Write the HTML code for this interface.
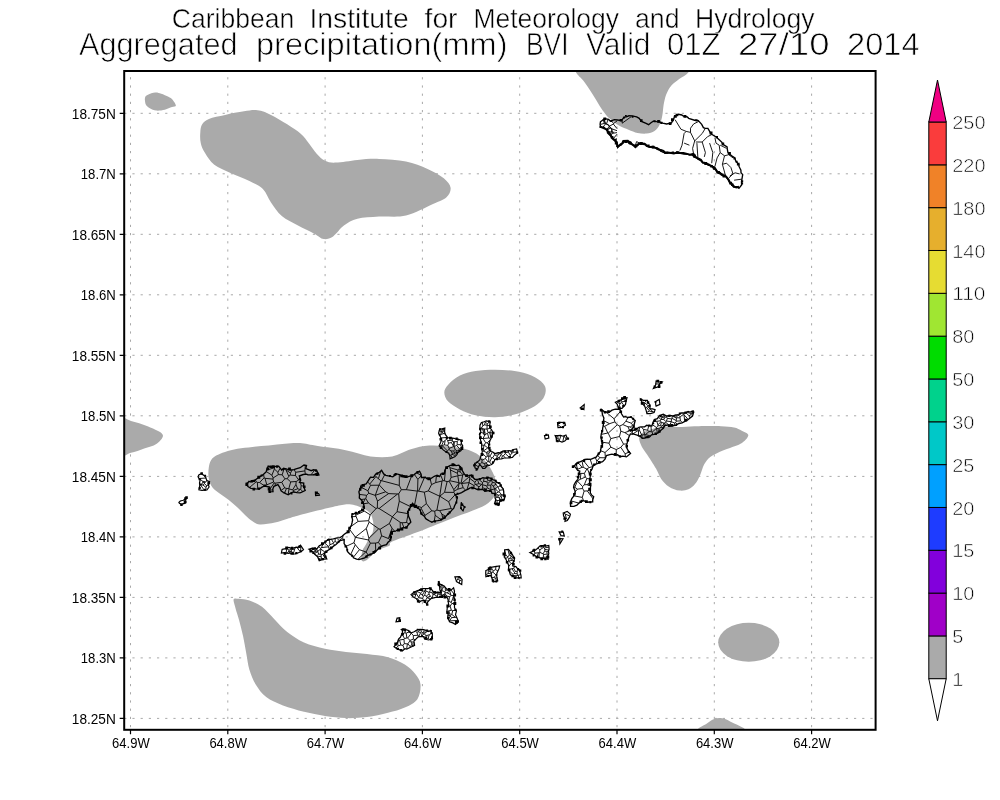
<!DOCTYPE html><html><head><meta charset="utf-8"><style>
html,body{margin:0;padding:0;background:#fff;width:1000px;height:800px;overflow:hidden}
svg{display:block;will-change:transform}
text{font-family:"Liberation Sans",sans-serif;fill:#000;stroke:#fff}
</style></head><body>
<svg width="1000" height="800" viewBox="0 0 1000 800">
<rect width="1000" height="800" fill="#fff"/>

<path d="M130.5 71.0V729.8M227.8 71.0V729.8M325.1 71.0V729.8M422.4 71.0V729.8M519.7 71.0V729.8M617.0 71.0V729.8M714.3 71.0V729.8M811.6 71.0V729.8" stroke="#a8a8a8" stroke-width="1" stroke-dasharray="2.2 6" stroke-dashoffset="2" fill="none"/>
<path d="M124.2 718.4H875.6M124.2 657.9H875.6M124.2 597.4H875.6M124.2 536.9H875.6M124.2 476.4H875.6M124.2 415.8H875.6M124.2 355.3H875.6M124.2 294.8H875.6M124.2 234.3H875.6M124.2 173.8H875.6M124.2 113.3H875.6" stroke="#a8a8a8" stroke-width="1" stroke-dasharray="2.2 6" fill="none"/>
<defs><clipPath id="pc"><rect x="124.2" y="71" width="751.4" height="658.8"/></clipPath></defs><g clip-path="url(#pc)" fill="#aaaaaa">
<path d="M145.3 96.8C145.8 95.7 146.3 95.4 148.0 94.7C149.6 94.0 153.0 92.7 155.2 92.6C157.4 92.4 159.0 93.1 161.2 93.8C163.4 94.5 166.5 95.8 168.4 96.8C170.3 97.8 171.3 98.3 172.6 99.8C173.8 101.3 176.0 104.6 175.9 105.8C175.8 107.0 173.8 106.3 172.0 107.0C170.1 107.6 167.4 109.1 164.8 109.7C162.2 110.3 158.9 110.8 156.4 110.6C153.9 110.3 151.5 109.1 149.8 108.2C148.1 107.3 147.0 106.4 146.2 105.2C145.4 104.0 145.1 102.4 145.0 101.0C144.8 99.6 144.8 97.8 145.3 96.8Z"/>
<path d="M200.3 132.4C200.5 129.3 200.7 126.6 202.2 124.3C203.6 122.1 205.1 120.5 208.9 118.9C212.7 117.3 219.3 116.1 225.1 114.9C231.0 113.6 238.6 112.1 244.0 111.3C249.4 110.6 253.0 109.7 257.5 110.3C262.0 110.8 266.1 112.5 271.0 114.9C276.0 117.2 282.3 121.2 287.2 124.3C292.2 127.5 297.1 130.6 300.7 133.8C304.3 136.9 306.1 139.8 308.8 143.2C311.5 146.6 314.2 151.1 316.9 154.0C319.6 156.9 321.9 159.3 325.0 160.8C328.2 162.2 330.4 162.8 335.8 162.6C341.2 162.5 350.2 160.6 357.4 159.9C364.6 159.3 370.9 158.6 379.0 158.9C387.1 159.1 397.9 159.9 406.0 161.6C414.1 163.2 421.3 166.1 427.6 168.9C433.9 171.6 440.0 175.2 443.8 178.3C447.6 181.5 450.1 184.6 450.6 187.8C451.0 190.9 449.4 194.5 446.5 197.2C443.6 199.9 439.8 200.9 433.0 204.0C426.3 207.0 415.0 213.4 406.0 215.6C397.0 217.7 387.1 216.1 379.0 216.6C370.9 217.2 363.3 217.3 357.4 218.8C351.6 220.3 348.0 222.6 343.9 225.6C339.9 228.5 336.5 234.1 333.1 236.4C329.7 238.6 326.8 239.5 323.7 239.1C320.5 238.6 318.5 235.9 314.2 233.7C309.9 231.4 303.4 228.5 298.0 225.6C292.6 222.6 286.3 219.9 281.8 216.1C277.3 212.3 274.2 207.1 271.0 202.6C267.9 198.1 266.5 192.7 262.9 189.1C259.3 185.5 254.8 183.7 249.4 181.0C244.0 178.3 236.4 175.6 230.5 172.9C224.7 170.2 218.6 168.2 214.3 164.8C210.0 161.4 207.1 156.3 204.9 152.7C202.6 149.1 201.6 146.6 200.8 143.2C200.0 139.8 200.0 135.6 200.3 132.4Z"/>
<path d="M566.0 50.0C545.2 53.5 572.4 65.9 575.2 71.0C578.0 76.1 580.6 77.2 583.0 80.3C585.4 83.4 587.3 86.2 589.5 89.4C591.7 92.7 593.8 96.3 596.0 99.8C598.2 103.3 600.3 107.2 602.5 110.2C604.7 113.2 606.2 115.4 609.0 118.0C611.8 120.6 616.2 123.9 619.4 125.8C622.7 127.8 625.5 128.5 628.5 129.7C631.5 130.9 634.6 132.3 637.6 133.0C640.6 133.6 643.9 133.9 646.7 133.6C649.5 133.3 652.3 132.5 654.5 131.0C656.7 129.5 658.4 127.1 659.7 124.5C661.0 121.9 661.7 118.7 662.3 115.4C663.0 112.2 663.0 108.5 663.6 105.0C664.3 101.5 664.9 97.9 666.2 94.6C667.5 91.4 669.2 88.1 671.4 85.5C673.6 82.9 676.2 81.4 679.2 79.0C682.2 76.6 686.1 75.8 689.6 71.0C693.1 66.2 720.6 53.5 700.0 50.0C679.4 46.5 586.8 46.5 566.0 50.0Z"/>
<path d="M120.0 419.8C121.8 414.3 127.3 420.2 131.0 420.9C134.7 421.6 138.3 422.9 142.0 424.2C145.7 425.5 149.5 426.8 153.0 428.6C156.5 430.4 162.4 432.6 162.9 435.2C163.5 437.8 159.4 441.8 156.3 444.0C153.2 446.2 148.4 446.9 144.2 448.4C140.0 449.9 135.0 451.9 131.0 452.8C127.0 453.7 121.8 459.4 120.0 453.9C118.2 448.4 118.2 425.3 120.0 419.8Z"/>
<path d="M444.3 392.5C444.3 389.7 445.6 387.5 448.2 384.7C450.8 381.9 455.4 377.9 459.9 375.6C464.5 373.3 469.7 372.0 475.5 371.1C481.4 370.1 488.5 369.8 495.0 369.8C501.5 369.8 508.4 370.1 514.5 371.1C520.6 372.0 526.6 373.5 531.4 375.6C536.2 377.7 540.7 380.8 543.1 383.4C545.5 386.0 545.9 388.4 545.7 391.2C545.5 394.0 544.2 397.5 541.8 400.3C539.4 403.1 536.0 405.7 531.4 408.1C526.9 410.5 520.6 413.1 514.5 414.6C508.4 416.1 501.5 417.1 495.0 417.2C488.5 417.3 481.4 416.6 475.5 415.3C469.7 414.0 464.5 411.7 459.9 409.4C455.4 407.1 450.8 404.4 448.2 401.6C445.6 398.8 444.3 395.3 444.3 392.5Z"/>
<path d="M208.8 478.8C208.1 475.4 208.3 470.6 208.8 467.5C209.2 464.4 210.0 462.0 211.2 460.0C212.5 458.0 214.0 457.0 216.2 455.6C218.5 454.3 221.5 453.0 225.0 451.9C228.5 450.7 232.9 449.6 237.5 448.8C242.1 447.9 247.3 447.4 252.5 446.9C257.7 446.4 263.3 446.1 268.8 445.6C274.2 445.1 279.8 444.2 285.0 443.8C290.2 443.3 294.5 442.7 300.0 443.1C305.5 443.5 310.2 444.9 317.8 446.1C325.4 447.3 336.9 448.4 345.7 450.2C354.5 451.9 362.8 455.3 370.5 456.4C378.3 457.4 385.5 457.5 392.2 456.4C398.9 455.2 404.6 451.0 410.8 449.2C417.0 447.4 422.2 445.9 429.4 445.5C436.6 445.1 447.0 446.0 454.2 447.1C461.4 448.1 467.6 449.4 472.8 451.7C478.0 454.0 481.6 456.9 485.2 461.0C488.8 465.1 492.7 471.3 494.5 476.5C496.3 481.7 497.1 487.6 496.1 492.0C495.0 496.4 492.2 499.8 488.3 502.9C484.4 506.0 479.5 507.8 472.8 510.6C466.1 513.4 457.3 516.3 448.0 519.9C438.7 523.5 426.3 528.7 417.0 532.3C407.7 535.9 396.8 539.4 392.2 541.6C387.7 543.8 391.2 544.4 389.7 545.5C388.2 546.6 385.2 547.2 383.2 548.0C381.2 548.8 379.4 549.2 377.5 550.4C375.6 551.6 373.7 553.6 371.8 555.3C369.9 557.0 367.7 559.6 366.1 560.6C364.5 561.6 362.9 561.6 362.1 561.0C361.3 560.4 361.2 558.8 361.3 556.9C361.4 555.0 362.2 551.5 362.9 549.6C363.6 547.7 364.5 547.0 365.3 545.5C366.1 544.0 367.0 542.3 367.8 540.7C368.6 539.1 369.4 537.2 370.2 535.8C371.0 534.4 372.1 534.0 372.6 532.5C373.2 531.0 373.4 528.7 373.5 526.8C373.6 524.9 373.4 523.1 373.0 521.1C372.6 519.1 372.0 516.4 371.0 514.6C370.0 512.9 368.5 511.7 367.0 510.6C365.5 509.5 364.1 509.0 362.1 508.1C360.1 507.2 357.7 505.9 354.8 505.3C351.9 504.7 349.1 504.1 345.0 504.5C340.9 504.9 337.7 505.8 330.2 507.5C322.7 509.3 307.1 513.1 300.0 515.0C292.9 516.9 291.7 517.5 287.5 518.8C283.3 520.0 279.6 521.6 275.0 522.5C270.4 523.4 263.8 524.6 260.0 524.4C256.2 524.2 255.0 522.8 252.5 521.2C250.0 519.7 247.5 517.3 245.0 515.0C242.5 512.7 240.2 510.0 237.5 507.5C234.8 505.0 231.7 502.3 228.8 500.0C225.8 497.7 222.7 495.8 220.0 493.8C217.3 491.7 214.4 490.0 212.5 487.5C210.6 485.0 209.4 482.1 208.8 478.8Z"/>
<path d="M639.1 438.6C639.1 436.4 639.8 434.9 641.7 433.4C643.7 431.9 647.6 430.6 650.8 429.5C654.1 428.4 656.0 427.3 661.2 426.9C666.4 426.5 675.7 427.0 682.0 426.9C688.3 426.8 692.4 426.4 698.9 426.3C705.4 426.1 715.2 426.0 721.0 426.3C726.9 426.5 730.5 426.8 734.0 427.6C737.5 428.3 739.4 429.5 741.8 430.8C744.2 432.1 748.5 433.2 748.3 435.4C748.1 437.5 744.6 441.3 740.5 443.8C736.4 446.3 728.6 448.1 723.6 450.3C718.6 452.5 713.9 454.4 710.6 456.8C707.4 459.2 705.8 461.6 704.1 464.6C702.4 467.6 701.7 471.8 700.2 475.0C698.7 478.3 697.0 481.7 695.0 484.1C693.1 486.5 691.1 488.2 688.5 489.3C685.9 490.4 682.7 491.0 679.4 490.6C676.2 490.2 672.0 488.7 669.0 486.7C666.0 484.8 663.4 481.9 661.2 478.9C659.0 475.9 658.4 472.6 656.0 468.5C653.6 464.4 649.3 457.9 646.9 454.2C644.5 450.5 643.0 449.0 641.7 446.4C640.4 443.8 639.1 440.8 639.1 438.6Z"/>
<path d="M233.6 599.4C234.2 597.8 236.3 598.6 238.9 598.8C241.5 599.0 245.5 599.2 249.4 600.5C253.2 601.8 257.8 603.6 262.0 606.8C266.2 609.9 270.4 615.2 274.6 619.4C278.8 623.6 282.3 628.1 287.2 632.0C292.1 635.8 297.7 639.7 304.0 642.5C310.3 645.3 318.0 647.2 325.0 648.8C332.0 650.4 339.0 651.1 346.0 651.9C353.0 652.8 360.0 653.2 367.0 654.0C374.0 654.9 381.7 655.4 388.0 657.2C394.3 658.9 400.2 661.7 404.8 664.5C409.3 667.3 412.7 670.7 415.3 674.0C417.9 677.3 420.2 680.3 420.5 684.5C420.9 688.7 420.0 695.3 417.4 699.2C414.8 703.0 409.7 705.3 404.8 707.6C399.9 709.9 394.3 711.3 388.0 712.8C381.7 714.4 374.0 716.2 367.0 717.0C360.0 717.9 353.0 718.3 346.0 718.1C339.0 717.9 332.0 717.0 325.0 716.0C318.0 714.9 311.0 713.5 304.0 711.8C297.0 710.0 289.3 707.9 283.0 705.5C276.7 703.0 270.7 700.6 266.2 697.1C261.6 693.6 258.5 689.0 255.7 684.5C252.9 679.9 251.0 675.0 249.4 669.8C247.8 664.5 247.3 658.6 246.2 653.0C245.2 647.4 244.3 641.8 243.1 636.2C241.9 630.6 240.1 623.9 238.9 619.4C237.7 614.8 236.6 612.2 235.7 608.9C234.9 605.6 233.1 601.1 233.6 599.4Z"/>
<ellipse cx="748.75" cy="642.35" rx="30.6" ry="19.5"/>
<path d="M699.4 731.0C693.1 729.7 704.7 725.3 707.2 723.3C709.7 721.3 711.7 719.7 714.2 718.9C716.7 718.1 719.3 717.8 722.0 718.3C724.7 718.8 726.8 719.6 730.6 721.7C734.4 723.8 749.9 729.5 744.7 731.0C739.5 732.5 705.6 732.3 699.4 731.0Z"/>
</g>
<g fill="none" stroke="#000" stroke-linejoin="miter">
<path d="M675.1 119.7 L680.9 129.2 L686.2 131.4 L690.5 132.4 L694.7 140.9 L692.6 148.4 L693.7 154.7M686.2 131.4 L684.1 133.5 L682.0 145.2 L679.9 150.5M690.5 132.4 L690.5 128.2 L693.7 123.9 L699.0 121.3M694.7 140.9 L702.2 133.5 L705.4 128.2M695.8 142.0 L702.2 142.0 L705.4 152.6 L704.3 156.9M702.2 142.0 L707.5 136.7 L711.7 134.6M696.9 143.1 L697.9 157.9M714.9 137.7 L716.0 143.1 L719.2 145.2 L720.2 152.6 L717.1 157.9 L714.9 166.4M720.2 152.6 L724.5 155.8 L728.7 154.7M724.5 155.8 L722.4 164.3 L725.6 176.0M722.4 164.3 L726.6 163.2 L730.9 167.5 L733.0 173.9M729.8 176.0 L735.1 172.8 L739.4 173.9M734.1 180.2 L741.5 179.2M728.7 154.7 L733.0 157.9M709.6 143.1 L712.8 152.6 L711.7 163.2M684.1 143.1 L689.4 145.2M720.2 145.2 L726.6 148.4M733.0 173.9 L728.7 178.1M603.8 118.8 L605.4 124.0 L608.6 124.8 L610.2 128.0M605.4 124.0 L603.0 127.2M607.0 129.6 L611.0 128.0 L612.6 132.0M610.2 133.6 L614.2 132.0M622.2 120.0 L622.2 123.2 L631.0 116.8M635.0 146.4 L636.6 141.6 L639.8 143.2M603.1 119.4 L604.3 123.4M603.8 118.8 L605.5 123.4M605.5 123.4 L604.3 123.4M600.6 124.4 L604.3 123.4M617.0 139.9 L614.7 139.5M617.0 138.7 L614.7 139.5M612.8 133.3 L617.0 132.6M612.8 133.3 L611.0 135.1M617.0 134.2 L613.1 138.9M608.3 131.7 L611.4 132.0M611.4 132.0 L612.8 133.3M614.7 139.5 L613.8 139.6M617.0 142.0 L616.0 142.1M606.7 130.1 L609.1 126.4M605.5 123.4 L606.7 123.4M609.1 126.4 L606.7 123.4M606.7 123.4 L608.1 119.2M617.0 121.0 L613.5 123.5M611.6 120.8 L613.5 123.5M617.0 130.7 L612.1 128.9M617.0 128.6 L613.3 124.0M612.1 128.9 L609.2 126.4M613.3 124.0 L609.2 126.4M611.4 132.0 L612.1 128.9M613.5 123.5 L613.3 124.0M609.1 126.4 L609.2 126.4M367.5 481.8 L369.7 484.1M375.2 475.8 L375.9 476.6M369.7 484.1 L375.9 476.6M445.7 516.4 L441.9 514.1M441.9 514.1 L442.8 518.6M359.4 494.4 L366.6 495.3M366.6 495.3 L368.8 493.2M361.3 487.3 L367.9 490.8M367.9 490.8 L368.8 493.2M369.7 484.1 L370.5 485.3M367.9 490.8 L370.5 485.3M381.6 480.7 L384.8 474.5M381.6 480.7 L381.0 480.9M378.4 478.7 L381.0 480.9M378.4 478.7 L380.6 471.5M399.3 485.4 L399.3 475.1M399.3 485.4 L381.6 480.7M375.9 476.6 L378.4 478.7M459.5 468.7 L460.3 472.2M460.3 472.2 L457.9 470.8M459.5 468.7 L457.6 469.9M457.6 469.9 L457.9 470.8M452.2 509.1 L451.1 508.5M441.9 514.1 L439.6 510.6M451.1 508.5 L439.6 510.6M434.7 511.2 L435.2 515.3M440.9 519.6 L435.2 515.3M434.7 511.2 L436.9 510.1M439.6 510.6 L436.9 510.1M339.1 540.5 L339.1 541.6M339.1 540.5 L337.2 538.5M337.3 542.7 L335.1 541.5M335.1 541.5 L335.2 538.8M370.2 514.8 L364.4 511.1M370.2 514.8 L368.6 520.7M358.1 521.4 L368.6 520.7M356.1 516.5 L358.1 521.4M356.1 516.5 L355.7 515.2M355.7 515.2 L364.4 511.1M366.6 495.3 L365.8 498.6M377.3 508.0 L376.1 508.6M377.3 508.0 L377.5 501.1M376.1 508.6 L368.5 503.0M368.5 503.0 L365.8 498.6M368.8 493.2 L375.3 495.4M377.5 501.1 L375.3 495.4M379.1 508.5 L397.6 494.0M379.1 508.5 L377.3 508.0M397.6 494.0 L388.7 493.6M377.5 501.1 L388.7 493.6M431.8 510.8 L424.9 515.4M431.8 510.8 L426.4 503.6M424.9 515.4 L421.3 508.6M426.4 503.6 L421.5 507.5M421.3 508.6 L421.5 507.5M417.3 491.1 L414.5 505.3M417.3 491.1 L406.4 489.7M406.4 489.7 L401.3 489.7M414.4 505.6 L414.5 505.3M410.7 506.7 L399.3 501.2M401.3 489.7 L398.7 493.8M399.3 501.2 L398.7 493.8M399.3 485.4 L401.3 489.7M411.7 475.8 L406.4 489.7M397.6 494.0 L398.7 493.8M379.1 508.5 L392.4 516.8M392.4 516.8 L397.0 511.7M397.0 511.7 L399.3 501.2M318.2 550.8 L317.9 551.5M318.2 550.8 L316.1 549.1M317.9 551.5 L315.4 550.6M316.1 549.1 L315.4 550.4M315.4 550.4 L315.4 550.6M316.0 548.0 L316.1 549.1M318.5 546.4 L320.7 548.3M320.7 548.3 L320.8 549.1M320.8 549.1 L318.2 550.8M312.5 549.0 L315.4 550.4M312.9 552.6 L315.3 550.7M315.3 550.7 L315.4 550.6M318.7 554.2 L317.8 551.8M318.7 554.2 L317.2 555.4M317.8 551.8 L316.0 552.5M316.0 552.5 L314.7 553.8M320.3 554.2 L318.7 554.2M320.3 554.2 L320.9 549.2M317.9 551.5 L317.8 551.8M320.8 549.1 L320.9 549.2M321.2 556.7 L321.1 554.7M321.2 556.7 L318.2 556.3M320.3 554.2 L321.1 554.7M315.3 550.7 L316.0 552.5M321.2 556.7 L321.6 559.5M320.7 548.3 L321.5 547.6M323.4 543.1 L321.5 547.6M335.1 541.5 L333.4 542.7M333.4 542.7 L331.5 539.4M369.2 522.0 L366.3 528.5M369.2 522.0 L378.7 528.8M366.3 528.5 L368.9 538.3M378.7 528.8 L368.9 538.3M333.4 542.7 L333.0 543.5M329.5 539.8 L329.9 544.7M333.0 543.5 L329.9 544.7M324.2 542.5 L328.5 546.5M329.9 544.7 L328.5 546.5M321.5 547.6 L328.5 546.8M328.5 546.5 L328.5 546.8M333.0 543.5 L334.9 545.1M325.1 558.3 L322.7 554.1M326.0 552.0 L324.9 552.0M322.7 554.1 L324.9 552.0M321.1 554.7 L322.7 554.1M328.5 546.8 L329.2 549.2M320.9 549.2 L324.9 552.0M364.9 499.0 L362.9 503.8M364.9 499.0 L360.8 499.6M368.5 503.0 L362.9 503.9M365.8 498.6 L364.9 499.0M352.0 516.7 L356.1 516.5M355.7 515.2 L354.8 513.3M364.4 511.1 L362.4 509.6M370.2 514.8 L376.1 508.6M385.6 491.8 L375.3 495.3M385.6 491.8 L379.2 484.9M375.3 495.3 L378.9 485.2M379.2 484.9 L378.9 485.2M375.3 495.4 L375.3 495.3M388.7 493.6 L385.6 491.8M381.0 480.9 L379.2 484.9M370.5 485.3 L378.9 485.2M406.5 522.5 L408.9 523.7M406.5 522.5 L408.2 513.7M408.2 513.7 L408.3 513.7M421.5 507.5 L414.5 505.3M421.3 508.6 L419.5 510.2M424.9 515.4 L424.2 516.3M397.0 511.7 L408.2 513.7M434.7 511.2 L431.8 510.8M435.2 515.3 L434.2 521.5M426.4 503.6 L424.3 492.2M424.3 492.2 L428.3 490.9M436.9 510.1 L439.6 496.2M428.3 490.9 L439.6 496.2M451.1 508.5 L448.7 501.8M448.7 501.8 L439.8 496.2M439.8 496.2 L439.7 496.2M439.6 496.2 L439.7 496.2M417.3 491.1 L417.6 491.0M424.3 492.2 L418.6 491.2M417.6 491.0 L418.6 491.2M414.5 474.6 L417.9 479.4M417.6 491.0 L417.9 479.4M416.7 472.9 L421.1 475.3M417.9 479.4 L421.3 475.5M504.4 494.6 L502.4 494.8M504.0 489.6 L499.5 490.3M502.4 494.8 L501.7 494.7M501.7 494.7 L501.6 494.7M501.6 494.7 L499.1 491.8M499.5 490.3 L499.1 491.8M500.9 485.4 L498.0 487.1M499.5 490.3 L498.0 487.1M497.2 481.8 L495.7 483.1M498.0 487.1 L497.7 487.0M497.7 487.0 L496.0 484.2M495.7 483.1 L496.0 484.2M448.7 501.8 L455.2 494.6M439.8 496.2 L444.6 492.3M455.2 494.6 L453.9 492.4M453.9 492.4 L444.6 492.3M439.7 496.2 L442.0 481.0M442.0 481.0 L442.9 480.6M442.9 480.6 L444.4 480.8M444.4 480.8 L447.1 481.6M444.6 492.3 L447.1 481.6M375.7 550.9 L375.5 543.1M375.5 543.1 L378.4 542.5M378.4 542.5 L381.9 546.7M402.0 522.8 L406.5 522.5M402.0 522.8 L404.3 528.4M402.0 522.8 L400.2 522.3M400.3 529.4 L400.2 522.3M392.4 516.8 L392.4 516.9M392.4 516.9 L400.2 522.3M339.1 540.5 L342.7 537.8M343.4 540.2 L342.7 537.8M366.3 528.5 L355.4 537.1M368.6 520.7 L369.2 522.0M358.1 521.4 L349.9 527.2M355.4 537.1 L349.2 528.9M342.7 537.8 L343.0 535.7M365.8 551.9 L359.4 549.7M365.8 551.9 L366.1 552.0M366.1 552.0 L370.4 543.2M359.4 549.7 L355.3 544.7M368.5 540.0 L370.4 543.2M368.5 540.0 L355.4 537.3M355.3 544.7 L354.0 542.7M355.4 537.3 L354.0 542.7M353.6 557.0 L359.4 549.7M358.2 559.0 L365.8 551.9M368.6 555.6 L366.1 552.0M375.5 543.1 L370.4 543.2M350.7 554.5 L355.3 544.7M355.4 537.1 L355.4 537.3M368.9 538.3 L368.5 540.0M345.6 546.6 L354.0 542.7M435.7 482.6 L431.5 484.6M435.7 482.6 L436.4 476.0M431.5 484.6 L430.2 478.9M428.3 490.9 L431.5 484.6M442.0 481.0 L435.7 482.6M442.9 480.6 L440.7 475.2M418.6 491.2 L424.4 477.6M444.4 480.8 L445.5 470.0M499.1 491.8 L498.4 491.9M497.7 487.0 L495.1 488.7M498.4 491.9 L495.1 488.7M496.0 484.2 L493.2 486.0M493.2 486.0 L494.6 488.8M495.1 488.7 L494.6 488.8M459.5 468.7 L460.5 467.8M449.9 467.7 L449.1 466.3M457.6 469.9 L449.9 467.7M495.7 483.1 L492.3 482.3M493.2 486.0 L491.6 484.5M491.6 484.5 L492.3 482.3M492.0 478.7 L491.5 480.3M491.5 480.3 L492.3 482.3M460.3 472.2 L463.2 474.7M464.1 474.2 L463.2 474.7M449.9 467.7 L450.5 470.0M457.9 470.8 L457.4 473.3M450.5 470.0 L457.4 473.3M490.8 485.1 L491.6 484.5M494.6 488.9 L494.6 488.8M494.6 488.9 L490.8 489.9M490.8 485.1 L490.8 489.8M490.8 489.8 L490.8 489.9M486.8 485.9 L487.3 487.8M487.6 485.2 L486.8 485.9M487.6 485.2 L490.8 485.1M490.8 489.8 L487.3 487.8M450.5 470.0 L451.1 477.4M451.1 477.4 L449.7 480.7M447.1 481.6 L449.1 481.2M449.7 480.7 L449.1 481.2M381.6 535.8 L388.4 538.5M381.6 535.8 L380.1 529.3M388.4 538.5 L392.1 528.3M380.1 529.3 L389.4 523.5M389.4 523.5 L392.1 528.3M378.4 542.5 L381.6 535.8M390.0 539.9 L388.4 538.5M378.7 528.8 L380.1 529.3M394.6 531.1 L392.1 528.3M392.4 516.9 L389.4 523.5M490.8 489.9 L490.5 491.0M494.6 488.9 L495.4 493.4M494.8 493.9 L495.4 493.4M498.4 491.9 L495.8 493.5M495.4 493.4 L495.8 493.5M482.6 482.6 L483.6 481.3M482.6 482.6 L478.3 479.0M484.1 478.0 L483.6 481.3M469.5 474.9 L469.4 476.6M477.4 479.0 L477.4 479.0M474.9 482.3 L477.4 479.0M474.9 482.3 L469.7 478.3M469.7 478.3 L469.4 476.6M469.1 482.7 L474.1 485.6M469.1 482.7 L469.1 482.6M474.1 485.6 L475.0 484.5M475.0 484.5 L474.9 482.3M469.7 478.3 L469.1 482.6M487.3 487.8 L486.3 489.2M486.3 489.2 L482.5 487.6M486.8 485.9 L482.7 484.8M482.5 487.6 L482.7 484.8M469.1 482.7 L467.1 489.1M474.1 485.6 L473.8 488.3M478.8 483.7 L475.5 484.5M478.8 483.7 L481.8 484.4M475.5 484.5 L479.0 486.9M481.8 484.4 L479.0 486.9M475.0 484.5 L475.5 484.5M477.4 479.0 L478.8 483.7M482.6 482.6 L482.3 484.4M482.3 484.4 L481.8 484.4M477.9 489.1 L479.0 486.9M469.4 476.6 L461.5 483.5M469.1 482.6 L461.6 483.5M461.6 483.5 L461.5 483.5M464.9 489.7 L463.2 487.6M461.6 483.5 L463.2 487.6M497.7 497.4 L496.7 497.5M497.7 497.4 L498.6 495.1M496.7 497.5 L497.0 494.6M498.6 495.1 L497.0 494.6M501.7 494.7 L499.4 497.9M501.6 494.7 L498.6 495.1M499.4 497.9 L497.7 497.4M495.8 493.5 L497.0 494.6M496.7 497.5 L495.0 498.7M486.3 489.2 L485.8 490.4M482.5 487.6 L482.0 489.8M482.3 484.4 L482.7 484.8M456.3 495.2 L455.2 494.6M487.8 483.5 L491.2 480.4M487.8 483.5 L486.7 481.7M486.7 481.7 L488.2 480.3M491.2 480.4 L488.2 480.3M487.6 485.2 L487.8 483.5M491.5 480.3 L491.2 480.4M483.6 481.3 L486.7 481.7M485.6 477.6 L488.2 480.3M461.1 483.2 L459.3 482.9M461.1 483.2 L462.7 475.0M462.7 475.0 L458.1 475.6M458.9 482.7 L459.3 482.9M458.9 482.7 L457.8 475.8M458.1 475.6 L457.8 475.8M461.5 483.5 L461.1 483.2M463.2 474.7 L462.7 475.0M457.4 473.3 L458.1 475.6M449.7 480.7 L458.9 482.7M451.1 477.4 L457.8 475.8M457.8 489.2 L459.2 483.1M457.8 489.2 L454.1 491.1M459.2 483.1 L453.8 489.7M454.1 491.1 L453.8 489.7M459.3 482.9 L459.2 483.1M463.2 487.6 L457.8 489.2M453.9 492.4 L454.1 491.1M449.1 481.2 L453.8 489.7M497.2 503.7 L497.0 500.5M497.2 503.7 L498.9 503.7M497.0 500.5 L499.8 500.4M499.8 500.4 L500.4 500.9M500.5 500.9 L500.4 500.9M495.0 499.5 L497.0 500.5M496.5 504.2 L497.2 503.7M499.4 497.9 L499.8 500.4M502.4 494.8 L500.4 500.9M249.4 487.6 L256.2 481.8M255.3 479.7 L256.2 481.8M317.9 472.4 L313.0 474.9M314.5 470.3 L311.1 474.7M256.2 481.8 L257.4 482.4M257.7 489.1 L257.4 482.4M257.4 482.4 L259.6 482.5M259.6 482.5 L264.6 485.9M263.6 474.3 L264.1 477.8M259.6 482.5 L264.1 477.8M273.2 477.9 L271.9 475.2M271.9 475.2 L274.4 469.0M278.4 474.6 L273.2 477.9M278.4 474.6 L277.9 472.3M277.9 472.3 L274.4 469.0M266.4 471.6 L271.9 475.2M267.2 470.0 L274.4 467.7M274.4 467.7 L274.4 469.0M304.9 470.9 L305.3 465.6M304.9 470.9 L305.3 474.1M265.0 478.3 L266.8 484.8M265.0 478.3 L273.0 479.1M266.8 484.8 L273.6 482.0M273.0 479.1 L273.6 482.0M264.1 477.8 L265.0 478.3M265.5 485.7 L266.8 484.8M273.2 477.9 L273.0 479.1M274.3 482.7 L269.3 490.1M274.3 482.7 L273.6 482.0M304.9 470.9 L295.6 472.3M295.6 472.3 L294.3 469.8M277.9 472.3 L280.0 468.4M278.4 474.6 L282.2 474.8M282.2 474.8 L284.0 469.0M274.4 467.7 L274.8 466.7M304.2 486.3 L301.1 485.7M300.0 480.0 L300.0 480.0M300.0 480.0 L300.0 480.0M300.4 482.0 L301.1 485.7M303.3 492.0 L300.8 489.5M300.8 489.5 L301.1 485.7M292.3 469.5 L290.5 473.1M285.2 468.8 L285.9 469.8M290.5 473.1 L285.9 469.8M290.5 473.1 L290.2 475.1M295.6 472.3 L295.5 475.5M295.5 475.5 L290.2 475.1M300.0 480.0 L298.7 480.0M295.5 475.5 L298.7 480.0M285.9 469.8 L288.8 476.3M290.2 475.1 L288.8 476.3M300.8 489.5 L300.2 489.5M296.1 492.8 L300.2 489.5M269.4 490.3 L272.8 489.8M274.3 482.7 L275.0 483.2M275.0 483.2 L275.4 485.3M297.7 488.8 L293.3 490.4M297.7 488.8 L295.9 484.5M295.9 484.5 L292.6 489.9M293.3 490.4 L292.6 489.9M294.3 492.8 L293.3 490.4M300.2 489.5 L297.7 488.8M298.7 480.0 L296.2 481.5M296.2 481.5 L295.9 484.5M292.6 489.9 L289.0 488.9M289.0 488.9 L288.2 494.5M283.4 492.9 L284.9 492.2M285.3 493.5 L284.9 492.2M290.7 481.9 L288.8 488.6M290.7 481.9 L287.2 478.7M281.8 482.3 L284.7 487.9M281.8 482.3 L284.9 478.8M284.7 487.9 L286.5 488.4M284.9 478.8 L287.2 478.7M286.5 488.4 L288.8 488.6M296.2 481.5 L290.7 481.9M289.0 488.9 L288.8 488.6M288.8 476.3 L287.2 478.7M281.4 490.1 L284.7 487.9M275.0 483.2 L281.8 482.3M282.2 474.8 L284.9 478.8M284.9 492.2 L286.5 488.4M205.5 481.8 L207.4 480.4M205.5 481.8 L202.8 481.3M206.1 478.0 L199.2 478.5M202.8 481.3 L199.3 478.7M202.8 481.3 L202.7 482.4M205.5 481.8 L205.1 482.4M205.1 482.4 L202.7 482.4M200.6 485.2 L200.8 485.3M204.2 490.1 L200.8 485.3M202.7 482.4 L201.3 485.1M200.8 485.3 L201.3 485.1M206.9 485.8 L204.4 483.7M206.9 485.8 L206.0 487.4M206.0 487.4 L202.8 484.9M204.4 483.7 L202.8 484.9M205.1 482.4 L204.4 483.7M208.8 484.3 L206.9 485.8M206.1 489.4 L206.0 487.4M201.3 485.1 L202.8 484.9M286.9 548.3 L288.9 550.0M286.9 548.3 L285.9 553.7M286.8 553.8 L288.9 550.9M288.9 550.0 L288.9 550.9M286.7 548.0 L286.9 548.3M291.2 548.0 L290.9 549.7M291.0 549.8 L290.9 549.7M291.0 549.8 L294.7 549.1M294.7 549.1 L295.3 548.0M288.9 550.0 L290.9 549.7M300.9 546.6 L297.6 548.5M300.9 546.6 L300.6 551.4M300.3 551.6 L297.6 548.5M296.8 547.7 L297.6 548.5M301.1 546.3 L300.9 546.6M290.3 553.8 L289.2 551.2M289.2 551.2 L291.9 551.8M293.1 553.5 L291.9 551.8M294.7 549.1 L293.4 553.5M288.9 550.9 L289.2 551.2M291.0 549.8 L291.9 551.8M443.4 441.6 L440.9 440.3M441.6 445.5 L443.4 441.6M441.6 445.5 L439.5 445.9M454.4 441.7 L453.9 446.1M454.4 441.7 L453.5 441.6M453.5 441.6 L453.9 446.1M462.0 448.2 L460.4 444.7M460.3 449.6 L456.7 445.5M460.4 444.7 L457.1 444.7M457.1 444.7 L456.7 445.5M461.9 443.2 L460.4 444.7M458.8 439.3 L457.3 441.6M457.3 441.6 L457.1 444.7M457.3 441.6 L454.4 441.7M456.7 445.5 L454.1 446.5M453.9 446.1 L453.9 446.5M453.9 446.5 L454.1 446.5M442.5 429.0 L442.6 429.4M441.1 431.5 L438.9 430.6M441.1 431.5 L441.3 431.4M442.6 429.4 L441.3 431.4M442.1 445.5 L444.4 444.9M442.1 445.5 L441.6 445.5M443.4 441.6 L445.1 440.7M445.1 440.7 L444.4 444.9M440.5 438.0 L446.3 437.5M446.3 437.5 L446.5 439.0M445.1 440.7 L446.5 439.0M443.8 433.6 L441.2 431.6M443.8 433.6 L440.9 434.3M440.9 434.3 L441.2 431.6M439.9 435.4 L440.9 434.3M441.1 431.5 L441.2 431.6M456.9 450.8 L455.0 449.5M456.9 450.8 L454.7 452.8M455.0 449.5 L453.6 451.0M454.7 452.8 L453.6 451.0M458.8 450.9 L456.9 450.8M454.1 446.5 L455.0 449.5M442.6 429.4 L443.7 431.3M442.6 429.4 L444.3 429.7M443.7 431.3 L445.0 432.1M442.6 429.4 L442.6 429.4M441.3 431.4 L443.7 431.3M443.8 433.6 L445.4 433.7M446.3 437.5 L446.5 437.1M448.5 443.1 L447.6 440.6M448.5 443.1 L451.4 442.6M447.6 440.6 L452.3 440.2M451.4 442.6 L452.5 441.2M452.5 441.2 L452.3 440.2M446.5 439.0 L447.6 440.6M447.8 445.4 L444.4 444.9M447.8 445.4 L448.5 443.1M449.2 448.4 L447.8 445.4M453.6 446.5 L449.2 448.4M453.6 446.5 L451.4 442.6M452.5 437.9 L452.3 440.2M453.9 446.5 L453.6 446.5M453.5 441.6 L452.5 441.2M454.7 452.8 L454.7 453.2M455.4 454.8 L454.7 453.2M452.2 453.2 L452.0 454.3M452.2 453.2 L451.0 450.9M448.8 454.6 L450.9 455.3M446.6 452.1 L447.4 450.9M450.9 455.3 L452.0 454.3M447.4 450.9 L448.9 449.5M448.9 449.5 L451.0 450.9M454.9 455.5 L452.0 454.3M454.7 453.2 L452.2 453.2M453.6 451.0 L451.0 450.9M452.5 458.3 L450.9 455.3M442.1 445.5 L447.4 450.9M449.2 448.4 L448.9 449.5M513.2 452.3 L512.3 450.3M513.2 452.3 L511.7 453.3M511.7 453.3 L510.5 450.6M485.2 422.4 L484.5 424.9M485.2 422.4 L487.5 423.6M484.5 424.9 L487.0 425.2M487.5 423.6 L487.0 425.2M482.4 422.5 L482.8 425.8M485.0 422.0 L485.2 422.4M482.8 425.8 L484.5 424.9M489.8 421.7 L487.5 423.6M516.9 451.9 L513.2 452.3M489.2 445.3 L487.2 442.8M487.2 442.8 L490.2 440.0M487.8 447.9 L484.3 445.2M487.8 447.9 L483.3 451.1M483.0 451.2 L483.3 451.1M483.0 451.2 L484.0 445.3M484.0 445.3 L484.3 445.2M489.5 447.8 L487.8 447.9M487.2 442.8 L485.6 442.6M485.6 442.6 L484.3 445.2M483.0 438.5 L483.0 438.5M483.0 438.5 L480.4 438.5M483.0 438.5 L485.6 442.6M484.0 445.3 L481.3 445.0M481.4 428.2 L480.4 428.4M482.8 425.8 L481.4 428.2M483.3 451.1 L486.4 452.4M490.1 450.2 L486.4 452.4M510.3 455.3 L508.4 452.1M510.3 455.3 L510.1 457.0M509.2 457.2 L505.3 453.6M508.4 452.1 L505.3 452.7M505.3 452.7 L505.3 453.6M511.7 453.3 L510.3 455.3M508.5 450.8 L508.4 452.1M505.5 457.8 L503.3 455.9M503.3 455.9 L505.3 453.6M504.4 451.6 L505.3 452.7M502.5 455.8 L501.5 458.4M502.5 455.8 L501.0 454.4M501.0 454.4 L499.2 458.0M499.7 458.7 L499.2 458.0M500.2 452.9 L500.2 453.1M503.3 455.9 L502.5 455.8M500.2 453.1 L501.0 454.4M499.0 454.1 L497.2 456.2M499.0 454.1 L494.2 453.6M497.2 456.2 L494.5 454.8M494.2 453.6 L494.5 454.8M500.2 453.1 L499.0 454.1M497.3 456.9 L499.2 458.0M497.3 456.9 L497.2 456.2M493.9 452.7 L494.2 453.6M488.8 438.0 L487.5 433.3M488.8 438.0 L490.5 438.6M490.9 437.7 L490.0 433.8M490.0 433.8 L489.0 432.7M489.0 432.7 L488.1 432.6M487.5 433.3 L488.1 432.6M483.0 438.5 L488.8 438.0M492.8 434.1 L490.0 433.8M489.1 432.7 L489.0 432.7M493.2 432.0 L489.1 432.7M486.3 433.8 L487.5 433.3M483.0 438.5 L484.5 435.6M486.3 433.8 L484.7 435.3M484.5 435.6 L484.7 435.3M480.1 432.3 L483.2 433.0M484.5 435.6 L483.2 433.0M490.3 451.3 L488.9 453.2M486.4 452.4 L486.7 452.8M488.9 453.2 L486.7 452.8M486.1 457.0 L487.4 456.3M482.5 453.4 L486.1 457.0M482.8 451.3 L483.0 451.2M486.7 452.8 L487.4 456.3M494.5 454.8 L492.7 457.7M497.3 456.9 L495.5 459.4M492.7 457.7 L494.9 459.7M487.0 429.1 L487.1 425.5M487.0 429.1 L487.0 429.1M487.0 429.1 L490.6 428.1M487.1 425.5 L490.3 425.6M488.1 432.6 L487.0 429.1M486.3 433.8 L484.8 432.5M484.8 432.5 L484.4 429.0M484.4 429.0 L487.0 429.1M489.1 432.7 L491.6 429.7M487.0 425.2 L487.1 425.5M482.3 428.5 L483.7 432.6M482.3 428.5 L483.9 428.9M483.9 428.9 L484.1 432.6M483.7 432.6 L484.0 432.6M484.0 432.6 L484.1 432.6M483.2 433.0 L483.7 432.6M481.4 428.2 L482.3 428.5M484.4 429.0 L483.9 428.9M484.8 432.5 L484.1 432.6M484.7 435.3 L484.0 432.6M474.2 465.2 L475.3 464.9M475.3 464.9 L478.6 466.9M491.7 457.8 L489.7 462.1M491.7 457.8 L489.8 456.3M489.8 456.3 L488.9 456.2M488.8 461.8 L488.7 456.2M488.8 461.8 L489.7 462.1M488.9 456.2 L488.7 456.2M492.3 452.4 L489.8 456.3M492.7 457.7 L491.7 457.8M488.9 453.2 L488.9 456.2M487.4 456.3 L488.7 456.2M486.1 457.0 L485.5 458.6M485.5 458.6 L487.8 461.6M487.8 461.6 L488.8 461.8M476.8 462.1 L480.2 464.1M476.8 462.1 L476.7 462.0M480.5 458.3 L482.1 460.0M482.1 460.0 L481.8 462.6M481.8 462.6 L480.2 464.1M475.3 464.9 L476.8 462.1M480.2 464.3 L480.2 464.1M485.5 458.6 L482.1 460.0M487.8 461.6 L486.4 462.7M486.4 462.7 L484.5 463.6M484.5 463.6 L481.8 462.6M482.1 467.1 L485.3 465.9M484.5 463.6 L485.3 465.9M487.0 464.5 L485.9 466.5M487.0 464.5 L490.0 465.7M485.9 466.5 L486.4 467.2M486.4 462.7 L487.0 464.5M485.3 465.9 L485.9 466.5M489.7 462.1 L491.4 464.3M601.8 434.3 L607.8 433.0M607.8 433.0 L604.7 426.3M604.7 426.3 L602.7 425.7M602.2 442.2 L609.0 443.2M610.8 438.6 L609.0 443.2M608.2 433.2 L610.8 438.6M608.2 433.2 L607.8 433.0M603.6 420.6 L609.5 423.7M609.5 423.7 L604.7 426.3M608.2 433.2 L617.2 424.8M609.5 423.7 L614.9 421.9M617.2 424.8 L614.9 421.9M606.1 412.1 L614.1 418.8M614.1 418.8 L614.9 421.9M691.9 413.8 L687.3 412.4M691.9 413.8 L689.0 415.8M689.0 415.8 L685.9 412.6M693.0 413.4 L691.9 413.8M684.6 420.8 L684.1 414.9M684.1 414.9 L687.8 418.9M684.4 412.7 L683.9 414.0M683.9 414.0 L684.1 414.9M689.0 415.8 L689.8 417.7M571.0 500.9 L579.1 503.2M573.9 487.4 L574.8 487.3M574.8 487.3 L577.5 489.1M577.5 489.1 L574.4 492.6M583.7 501.1 L582.3 497.4M573.5 495.8 L582.3 497.4M682.0 422.2 L680.5 420.9M677.7 424.4 L675.5 422.6M675.5 422.6 L676.5 421.1M680.5 420.9 L676.5 421.1M610.8 438.6 L619.5 436.5M619.5 436.5 L623.5 444.1M609.0 443.2 L610.9 447.2M610.9 447.2 L616.3 449.6M616.3 449.6 L620.8 447.3M623.5 444.1 L620.8 447.3M616.1 454.9 L616.3 449.6M625.4 456.4 L625.1 453.8M625.1 453.8 L620.8 447.3M610.9 447.2 L605.0 452.5M605.6 458.0 L605.4 457.8M605.4 457.8 L605.0 452.5M582.3 497.4 L584.1 491.1M577.5 489.1 L582.6 488.5M584.1 491.1 L582.6 488.5M593.2 499.1 L587.3 490.9M584.1 491.1 L587.3 490.9M589.6 490.2 L587.3 490.9M634.7 425.0 L632.8 425.2M632.8 425.2 L631.3 423.2M631.3 423.2 L634.7 420.1M683.9 414.0 L680.3 416.7M677.6 414.5 L677.7 414.8M677.7 414.8 L680.3 416.7M680.5 420.9 L680.0 417.8M680.3 416.7 L680.0 417.8M677.7 414.8 L677.1 415.7M680.0 417.8 L676.7 417.8M676.7 417.8 L677.1 415.7M623.5 444.1 L627.1 443.9M625.1 453.8 L628.9 452.2M595.0 456.8 L596.9 461.3M597.5 454.9 L599.6 457.7M596.9 461.3 L599.6 457.7M605.0 452.5 L601.0 450.8M605.4 457.8 L599.6 457.7M590.0 458.8 L592.7 466.6M583.6 460.9 L589.1 467.6M589.1 467.6 L592.7 466.6M596.9 461.3 L596.3 463.6M593.0 466.6 L592.7 466.6M617.2 424.8 L619.7 426.0M619.5 436.5 L620.8 431.2M619.7 426.0 L620.8 431.2M625.9 421.2 L631.3 423.2M625.9 421.2 L628.3 416.9M619.7 426.0 L622.9 424.6M625.9 421.2 L622.9 424.6M614.1 418.8 L620.6 411.3M672.5 416.3 L671.9 418.3M672.8 416.4 L673.4 416.6M673.4 416.6 L676.4 418.0M671.9 418.3 L676.3 420.6M676.3 420.6 L676.4 418.0M677.1 415.7 L673.4 416.6M676.7 417.8 L676.4 418.0M676.5 421.1 L676.3 420.6M638.6 436.2 L641.7 435.0M638.5 436.2 L638.5 430.3M641.7 435.0 L639.1 429.5M638.5 430.3 L639.1 429.5M641.9 438.4 L642.0 435.0M642.0 435.0 L641.7 435.0M574.8 487.3 L577.4 481.0M576.7 480.5 L577.4 481.0M582.6 488.5 L582.6 486.6M582.6 486.6 L577.4 481.0M577.4 481.0 L577.4 481.0M589.9 485.7 L586.6 484.6M590.1 483.1 L586.6 484.6M582.6 486.6 L584.3 484.8M586.6 484.6 L584.3 484.8M578.4 463.0 L582.1 467.3M576.2 464.4 L577.7 469.3M582.1 467.3 L577.7 469.3M582.1 461.4 L583.3 467.4M582.1 467.3 L583.3 467.4M580.3 479.3 L577.4 481.0M580.3 479.3 L580.9 473.4M580.9 473.4 L579.1 473.3M577.7 469.3 L577.5 469.6M632.8 425.2 L630.4 426.9M622.9 424.6 L628.0 426.8M630.4 426.9 L628.0 426.8M630.4 426.9 L631.8 428.6M643.4 429.4 L644.6 434.6M643.4 429.4 L647.6 430.2M647.6 430.2 L649.0 431.6M649.0 431.6 L645.5 434.6M645.5 434.6 L644.9 434.8M644.6 434.6 L644.9 434.8M639.7 427.7 L639.1 429.5M641.5 427.0 L643.4 429.4M642.0 435.0 L644.6 434.6M648.9 425.5 L647.6 430.2M645.3 437.8 L644.9 434.8M664.8 422.9 L665.7 422.3M669.6 425.6 L665.7 422.3M664.8 422.9 L665.2 425.0M669.6 425.6 L669.6 425.7M665.2 425.0 L667.1 425.8M674.8 423.0 L671.3 421.8M674.8 423.0 L674.5 425.3M669.6 425.6 L671.3 421.8M587.3 468.7 L590.3 475.9M587.3 468.7 L586.8 469.0M586.8 469.0 L584.4 473.4M584.4 473.4 L585.4 477.0M585.4 477.0 L586.8 478.6M586.8 478.6 L590.3 478.9M589.1 467.6 L587.3 468.7M583.3 467.4 L586.8 469.0M580.9 473.4 L584.4 473.4M580.3 479.3 L585.4 477.0M584.3 484.8 L586.8 478.6M624.8 432.6 L629.7 430.9M624.8 432.6 L629.9 435.9M629.7 430.9 L632.3 432.5M632.7 434.4 L632.7 434.0M632.7 434.0 L632.3 432.5M620.8 431.2 L624.8 432.6M628.0 426.8 L629.7 430.7M629.7 430.8 L629.7 430.9M632.7 430.0 L632.3 432.5M638.5 430.3 L632.7 434.0M667.3 418.4 L666.5 421.1M667.3 418.4 L671.5 418.9M666.5 421.1 L671.3 421.6M671.5 418.9 L671.3 421.6M667.4 415.5 L666.7 417.1M671.9 418.3 L671.5 418.9M666.7 417.1 L667.3 418.4M665.7 422.3 L665.9 421.6M665.9 421.6 L666.5 421.1M671.3 421.8 L671.3 421.6M675.5 422.6 L674.8 423.0M649.0 431.6 L651.4 431.7M650.9 425.3 L651.4 431.7M650.8 436.0 L645.5 434.6M653.1 435.0 L652.0 432.3M652.0 432.3 L651.4 431.7M657.4 432.9 L656.5 428.3M660.3 430.5 L658.3 428.9M658.3 428.9 L656.6 428.2M656.5 428.3 L656.6 428.2M652.0 432.3 L656.5 428.3M652.3 424.7 L656.4 427.4M656.4 427.4 L656.6 428.2M658.3 428.9 L661.4 427.1M661.4 427.1 L662.4 428.4M665.2 425.0 L665.0 426.0M661.9 416.9 L661.8 417.6M661.9 416.9 L664.0 416.0M661.8 417.6 L664.6 417.8M664.0 416.0 L665.3 417.1M665.3 417.1 L664.6 417.8M658.6 417.1 L660.8 419.6M661.3 415.7 L661.9 416.9M660.8 419.6 L661.0 419.4M661.0 419.4 L661.8 417.6M663.9 414.9 L664.0 416.0M663.9 419.6 L661.0 419.4M663.9 419.6 L664.6 417.8M666.7 417.1 L665.3 417.1M665.9 421.6 L663.9 419.6M664.8 422.9 L664.0 423.1M664.1 426.7 L664.0 423.1M660.3 420.8 L660.9 421.8M660.3 420.8 L656.8 421.3M660.9 421.8 L657.9 424.9M656.8 421.3 L657.9 424.9M655.0 420.7 L656.8 421.3M660.8 419.6 L660.3 420.8M656.4 427.4 L658.0 425.8M658.0 425.8 L657.9 424.9M661.0 426.1 L663.0 425.4M661.0 426.1 L660.5 425.6M660.5 425.6 L661.4 422.4M663.0 425.4 L664.0 423.1M661.4 422.4 L664.0 423.1M661.4 427.1 L661.0 426.1M664.1 426.7 L663.0 425.4M658.0 425.8 L660.5 425.6M660.9 421.8 L661.4 422.4M664.0 423.1 L664.0 423.1M660.6 383.6 L658.9 383.9M658.9 383.9 L658.2 387.0M655.3 384.0 L658.9 383.9M649.1 405.1 L648.2 405.8M646.8 400.4 L644.5 402.6M644.5 402.6 L648.2 405.8M642.0 402.5 L644.3 402.8M644.5 402.6 L644.3 402.8M654.1 412.1 L653.0 411.8M653.0 411.8 L647.6 406.5M648.2 405.8 L647.6 406.5M646.6 407.3 L645.8 407.6M646.6 407.3 L649.5 411.1M649.5 411.1 L647.0 412.2M644.3 402.8 L644.7 405.9M647.6 406.5 L646.6 407.3M653.0 411.8 L649.5 411.1M616.9 402.3 L620.0 403.7M618.7 407.7 L620.0 403.7M620.0 403.7 L621.7 402.6M623.8 405.2 L621.7 402.6M623.0 397.4 L625.7 400.3M621.1 399.9 L621.9 401.9M621.9 401.9 L625.5 401.2M621.7 402.6 L621.9 401.9M562.0 427.7 L557.9 424.7M557.2 425.0 L557.9 424.7M559.2 422.8 L557.9 424.7M562.9 441.2 L564.0 435.9M564.0 435.9 L566.5 439.7M559.4 440.2 L561.0 435.6M559.4 440.2 L559.7 441.2M564.0 435.6 L564.0 435.9M558.2 439.0 L557.6 435.6M558.2 439.0 L556.8 438.8M556.8 438.8 L555.9 435.6M559.4 440.2 L558.2 439.0M555.7 438.9 L556.8 438.8M569.4 515.8 L565.1 514.0M564.0 513.1 L565.1 514.0M567.7 519.6 L566.5 518.8M566.5 518.8 L564.7 519.4M565.1 514.0 L566.5 518.8M539.8 549.8 L543.5 547.5M539.8 549.8 L537.8 548.0M543.5 547.5 L543.4 545.4M544.2 548.0 L544.8 549.4M544.2 548.0 L549.1 547.1M544.8 549.4 L548.9 550.1M549.1 550.1 L548.9 550.1M543.5 547.5 L544.2 548.0M534.9 553.2 L533.5 555.5M534.9 553.2 L538.5 552.7M538.5 552.7 L537.3 556.2M535.7 556.6 L537.3 556.2M534.2 550.0 L534.9 553.2M539.8 549.8 L539.8 552.3M538.5 552.7 L539.4 552.5M539.8 552.3 L539.4 552.5M537.3 556.2 L539.0 556.2M539.4 552.5 L539.0 556.2M540.5 558.6 L539.0 556.2M539.8 552.3 L543.1 553.9M544.8 549.4 L544.7 550.9M543.1 553.9 L544.7 550.9M548.9 550.1 L547.0 551.9M544.7 550.9 L547.0 551.9M545.8 557.3 L548.2 555.7M545.8 557.3 L543.3 557.2M543.3 557.2 L543.5 554.5M543.5 554.5 L547.1 554.1M548.4 554.7 L547.1 554.1M547.6 558.4 L545.8 557.3M542.5 558.9 L543.3 557.2M543.1 553.9 L543.5 554.5M547.0 551.9 L547.1 554.1M506.8 561.9 L508.5 560.9M504.8 558.6 L507.8 557.6M507.8 557.6 L508.8 558.7M508.5 560.9 L508.8 558.7M520.7 574.3 L518.5 575.4M518.4 577.8 L518.5 575.4M509.3 555.0 L507.8 557.0M509.3 555.0 L508.0 549.8M507.8 557.0 L505.8 554.9M505.8 554.9 L504.5 550.2M510.6 555.4 L512.1 554.5M510.6 555.4 L509.3 555.0M504.1 557.6 L505.8 554.9M507.8 557.6 L507.8 557.0M511.8 559.0 L509.6 558.6M511.8 559.0 L512.5 557.1M509.6 558.6 L511.0 556.4M512.5 557.1 L511.0 556.4M508.8 558.7 L509.6 558.6M510.6 555.4 L511.0 556.4M513.8 556.4 L512.5 557.1M513.7 561.2 L512.7 560.3M513.5 562.9 L511.1 563.5M512.7 560.3 L508.7 561.0M511.1 563.5 L508.7 561.0M511.8 559.0 L512.7 560.3M508.9 569.3 L512.0 568.8M512.0 568.8 L513.5 568.0M513.5 568.0 L515.0 566.8M508.5 566.7 L511.1 563.5M508.5 560.9 L508.7 561.0M516.1 577.8 L516.0 575.8M518.5 575.4 L518.3 575.3M516.0 575.8 L518.3 575.3M512.7 576.3 L513.1 575.4M516.0 575.8 L513.1 575.4M509.2 570.8 L513.1 574.4M513.1 575.4 L513.1 574.4M517.2 573.9 L514.1 573.4M517.2 573.9 L517.2 571.1M515.5 571.5 L517.2 571.1M515.5 571.5 L514.5 572.5M514.5 572.5 L514.1 573.4M518.3 575.3 L517.2 573.9M513.1 574.4 L514.1 573.4M518.8 569.7 L517.2 571.1M513.5 568.0 L515.5 571.5M512.0 568.8 L514.5 572.5M491.7 577.8 L491.6 578.0M486.1 574.6 L488.1 573.6M491.7 577.8 L491.5 573.1M491.5 573.1 L488.1 573.6M497.5 577.9 L495.0 578.1M497.5 575.0 L496.2 575.1M496.2 575.1 L494.0 577.3M494.0 577.3 L495.0 578.1M497.3 581.3 L495.0 578.1M496.0 565.9 L495.6 569.6M495.6 569.6 L497.9 571.0M491.7 577.8 L494.0 577.3M491.2 567.1 L492.4 569.8M495.6 569.6 L493.3 570.8M492.4 569.8 L493.3 570.8M496.2 575.1 L492.8 572.1M493.3 570.8 L492.8 572.1M488.2 569.3 L489.4 569.6M488.0 569.4 L488.4 570.4M489.4 569.6 L491.7 572.9M488.4 570.4 L491.5 573.1M491.5 573.1 L491.7 572.9M492.4 569.8 L489.4 569.6M488.1 573.6 L488.4 570.4M492.8 572.1 L491.7 572.9M491.5 573.1 L491.5 573.1M420.5 601.8 L417.4 598.7M417.4 598.7 L416.7 599.0M416.9 591.4 L416.4 593.8M416.4 593.8 L416.0 594.4M416.0 594.4 L412.6 594.8M412.6 594.8 L412.3 594.2M412.7 596.5 L412.6 594.8M414.6 597.6 L416.0 594.4M457.8 620.4 L449.5 620.9M449.1 621.1 L449.5 620.9M451.3 610.2 L448.9 610.9M451.3 610.2 L450.2 606.1M448.9 610.9 L447.7 611.0M447.9 606.4 L450.2 606.1M451.3 610.2 L452.7 610.7M455.5 610.2 L452.7 610.7M454.9 604.0 L451.9 603.4M450.2 606.1 L451.9 603.4M421.2 589.7 L422.4 591.4M417.0 591.4 L420.4 593.1M420.4 593.1 L422.4 591.4M425.5 588.9 L425.6 590.5M425.6 590.5 L425.0 590.7M422.4 591.4 L425.0 590.7M452.7 610.7 L451.8 614.4M457.0 617.8 L455.5 617.4M451.8 614.4 L455.5 617.4M449.5 620.9 L451.7 617.6M455.5 617.4 L451.7 617.6M448.5 618.8 L450.3 616.1M451.7 617.6 L450.3 616.1M429.0 592.4 L429.4 592.2M426.0 591.0 L429.0 592.4M425.6 590.5 L426.0 591.0M429.4 592.2 L430.9 588.8M422.7 598.5 L423.3 596.2M422.7 598.5 L418.6 597.7M423.3 596.2 L422.3 595.0M418.6 597.7 L418.6 597.3M418.6 597.3 L420.6 593.6M420.6 593.6 L422.3 595.0M423.8 601.1 L422.7 598.5M417.4 598.7 L418.6 597.7M426.0 591.0 L424.5 595.5M425.0 590.7 L422.3 595.0M424.5 595.5 L423.3 596.2M416.4 593.8 L418.6 597.3M420.4 593.1 L420.6 593.6M429.0 592.4 L429.0 594.0M424.5 595.5 L426.4 596.0M429.0 594.0 L426.4 596.0M450.2 615.8 L451.3 614.7M450.2 615.8 L448.8 615.3M451.3 614.7 L449.5 613.3M448.8 615.3 L449.5 613.3M451.8 614.4 L451.3 614.7M450.3 616.1 L450.2 615.8M447.6 615.3 L448.8 615.3M448.9 610.9 L449.5 613.3M451.2 602.4 L448.8 601.3M448.8 601.3 L447.6 601.5M451.9 603.4 L451.2 602.4M448.8 601.3 L449.5 596.6M449.5 596.6 L446.9 596.2M446.2 597.4 L446.9 596.2M451.2 602.4 L454.0 595.7M454.6 595.5 L454.0 595.7M449.5 596.6 L451.3 595.5M454.0 595.7 L451.3 595.5M442.1 584.5 L440.4 586.6M441.9 584.4 L438.9 584.9M440.4 586.6 L439.2 586.4M444.1 596.9 L444.9 593.8M446.9 596.2 L445.0 593.7M445.0 593.7 L444.9 593.8M441.9 596.6 L442.3 595.2M444.9 593.8 L442.3 595.2M433.6 591.2 L433.1 591.7M429.4 592.2 L431.7 592.4M433.1 591.7 L431.7 592.4M424.4 601.0 L425.3 600.7M425.3 600.7 L428.5 601.0M441.6 590.5 L441.7 590.5M441.6 590.5 L440.8 586.9M441.7 590.5 L443.4 587.0M440.8 586.9 L443.4 587.0M439.9 590.8 L441.6 590.5M440.4 586.6 L440.8 586.9M444.4 586.2 L443.4 587.0M441.4 593.6 L442.0 595.0M442.0 595.0 L437.8 593.9M441.4 593.6 L437.6 592.7M437.6 592.7 L437.8 593.9M437.3 597.2 L437.4 596.5M442.3 595.2 L442.0 595.0M437.4 596.5 L437.8 593.9M445.1 592.8 L444.8 591.8M445.1 592.8 L446.9 592.7M444.8 591.8 L445.4 590.7M446.9 592.7 L449.8 591.2M445.4 590.7 L447.8 589.6M449.8 591.2 L450.4 589.3M450.4 589.3 L450.4 589.3M445.0 593.7 L445.1 592.8M441.7 590.5 L444.8 591.8M441.7 590.5 L441.4 593.6M451.3 595.5 L450.8 594.8M450.8 594.8 L446.9 592.7M441.7 590.5 L441.7 590.5M445.2 586.9 L445.4 590.7M450.8 594.8 L449.8 591.2M454.7 594.8 L450.4 589.3M427.1 597.5 L430.3 596.2M427.1 597.5 L427.1 597.7M427.1 597.7 L430.6 599.2M430.3 596.2 L432.3 598.1M432.3 598.1 L432.4 598.4M429.0 594.0 L430.3 596.2M426.4 596.0 L427.1 597.5M425.3 600.7 L427.1 597.7M431.7 592.4 L433.0 594.7M433.0 594.7 L432.3 598.1M433.3 594.5 L433.8 593.4M433.3 594.5 L434.0 594.4M434.0 594.4 L437.6 592.5M433.8 593.4 L437.6 592.2M437.6 592.2 L437.6 592.5M433.1 591.7 L433.8 593.4M433.0 594.7 L433.3 594.5M437.4 596.5 L434.0 594.4M437.6 592.7 L437.6 592.5M437.6 592.0 L437.6 592.2M456.2 581.4 L457.9 578.9M458.6 576.8 L457.9 578.9M461.4 580.7 L459.7 580.1M459.7 580.1 L459.4 583.6M457.9 578.9 L459.7 580.1M403.0 645.4 L404.3 643.6M403.0 645.4 L404.4 649.5M406.7 648.6 L407.4 643.9M404.3 643.6 L407.4 643.9M400.9 645.0 L399.5 640.0M404.0 639.3 L399.5 640.0M404.0 639.3 L404.3 643.6M400.9 645.0 L403.0 645.4M396.1 648.0 L398.2 645.9M398.2 645.9 L400.9 645.0M407.9 643.8 L410.2 646.6M407.9 643.8 L410.0 640.6M410.0 640.6 L410.9 641.8M410.9 641.8 L412.0 644.0M412.0 644.0 L411.5 644.9M410.2 646.6 L411.5 644.9M410.3 647.3 L410.2 646.6M407.4 643.9 L407.9 643.8M413.6 646.2 L411.5 644.9M397.7 643.4 L398.5 639.7M397.7 643.4 L396.3 643.0M398.5 639.7 L398.3 639.5M398.2 645.9 L397.7 643.4M399.5 640.0 L398.5 639.7M404.0 639.3 L404.6 638.5M402.2 634.6 L404.6 638.5M412.0 644.0 L414.2 644.1M410.9 641.8 L414.2 642.3M428.8 639.2 L428.4 637.3M428.4 637.3 L427.3 639.0M410.0 640.6 L410.0 640.4M415.4 640.0 L413.4 639.1M410.0 640.4 L413.4 639.1M402.9 633.4 L405.0 632.8M405.0 632.8 L405.3 630.0M423.8 633.9 L423.3 632.7M423.3 632.7 L422.3 632.5M423.8 633.9 L421.3 637.0M422.3 632.5 L421.1 637.0M424.1 630.3 L423.6 632.3M423.6 632.3 L423.3 632.7M420.9 630.0 L421.3 631.9M422.3 632.5 L421.3 631.9M427.1 635.4 L426.2 635.5M427.1 635.4 L429.4 634.7M429.4 634.7 L431.5 633.4M424.3 634.1 L426.3 631.9M424.3 634.1 L426.2 635.5M429.2 630.7 L426.3 631.9M424.0 637.4 L426.2 635.5M426.2 638.5 L427.1 635.4M428.4 637.3 L429.4 634.7M423.8 633.9 L424.3 634.1M423.6 632.3 L426.3 631.9M411.4 633.3 L407.6 638.1M411.4 633.3 L411.4 632.3M409.2 631.7 L406.2 633.2M406.2 633.2 L406.9 638.0M406.9 638.0 L407.6 638.1M413.3 635.5 L411.4 633.3M413.3 635.5 L413.4 639.1M410.0 640.4 L407.6 638.1M405.0 632.8 L406.2 633.2M404.6 638.5 L406.9 638.0M420.6 632.6 L418.9 636.1M420.6 632.6 L418.2 631.8M416.9 632.3 L417.9 635.3M416.9 632.3 L418.2 631.8M417.9 635.3 L418.9 636.1M421.3 631.9 L420.6 632.6M419.4 637.0 L418.9 636.1M419.8 629.9 L418.2 631.8M413.3 635.5 L417.9 635.3M415.2 630.7 L416.9 632.3" stroke-width="0.9"/>
<path d="M600.5 121.7 L604.6 118.7 L608.6 119.4 L610.4 121.2 L614.4 119.7 L617.5 120.0 L621.5 120.6 L624.1 117.2 L626.3 116.8 L628.9 115.8 L632.0 115.9 L636.7 116.8 L639.2 118.3 L641.4 121.5 L646.1 123.4 L648.6 124.7 L651.0 122.7 L653.3 121.2 L656.7 121.7 L659.6 122.0 L662.7 123.1 L666.6 124.0 L671.5 123.0 L672.6 120.6 L673.8 119.0 L674.5 115.9 L678.5 114.3 L681.8 115.0 L683.4 116.2 L687.3 116.9 L688.7 118.3 L694.5 120.2 L695.7 120.0 L698.3 120.5 L701.7 124.4 L703.4 127.6 L705.3 128.3 L707.9 128.4 L709.5 131.2 L711.2 134.1 L715.8 136.7 L717.8 138.4 L719.2 139.7 L721.9 142.3 L722.4 144.7 L724.3 145.1 L727.1 147.0 L727.3 149.2 L728.0 152.8 L730.1 154.6 L732.1 156.1 L734.9 157.9 L735.6 160.7 L736.3 161.6 L739.0 164.9 L738.9 166.2 L740.9 170.1 L741.0 172.6 L742.7 174.6 L742.4 176.3 L741.5 181.6 L741.6 184.9 L738.9 188.3 L736.9 186.8 L733.5 187.0 L731.2 184.0 L729.9 183.0 L727.9 179.3 L726.3 176.5 L722.2 174.9 L720.5 172.7 L717.5 171.5 L716.1 169.3 L713.6 168.9 L712.6 166.7 L708.9 165.0 L704.7 162.4 L702.4 162.6 L701.5 161.2 L698.1 159.2 L696.8 158.0 L694.4 157.1 L691.9 154.8 L689.9 154.9 L686.7 154.1 L683.9 154.1 L680.3 153.3 L678.5 153.3 L674.2 153.2 L671.7 152.9 L668.4 152.6 L665.5 153.0 L662.2 151.9 L661.5 151.1 L658.6 148.8 L656.2 147.7 L652.5 147.6 L648.7 146.9 L646.2 145.4 L644.6 143.5 L640.2 143.2 L637.6 145.6 L634.6 145.5 L631.4 144.3 L627.3 141.0 L624.5 141.9 L621.7 144.3 L619.5 145.9 L616.9 146.3 L617.2 144.7 L616.5 141.4 L612.7 138.1 L610.3 135.2 L609.2 132.6 L607.0 130.8 L604.2 127.4 L600.5 126.8 L600.1 124.2ZM358.9 491.8 L359.8 489.7 L361.2 485.2 L366.1 484.0 L368.3 480.6 L370.5 477.2 L373.5 477.3 L375.7 474.1 L379.4 472.3 L381.6 470.4 L383.7 473.9 L385.8 475.3 L389.4 476.1 L392.8 476.8 L396.7 473.9 L399.5 474.6 L401.7 475.8 L405.8 477.2 L407.5 476.8 L410.8 475.8 L413.8 474.8 L416.0 473.1 L419.5 471.1 L421.1 474.1 L421.4 477.5 L425.4 477.3 L426.5 478.4 L430.1 479.1 L434.3 476.3 L437.1 475.2 L439.6 476.5 L441.0 473.8 L444.4 473.7 L444.8 470.3 L446.4 467.5 L450.3 465.4 L452.5 465.2 L456.1 465.6 L458.8 465.2 L461.4 468.1 L462.0 470.1 L463.9 473.4 L465.8 475.9 L468.6 475.6 L471.7 475.1 L473.1 477.5 L474.8 479.3 L477.1 479.4 L480.6 478.9 L482.9 477.6 L486.5 478.4 L488.3 477.4 L490.5 478.4 L493.2 479.9 L494.7 480.2 L496.8 482.3 L500.0 483.0 L500.2 485.5 L502.7 488.3 L503.2 488.8 L503.7 491.6 L503.9 495.2 L504.8 496.9 L504.2 499.6 L500.4 500.5 L499.2 502.7 L498.6 505.3 L494.6 503.7 L495.8 499.8 L495.1 497.9 L495.0 493.5 L492.0 493.3 L491.1 490.8 L488.0 490.7 L484.9 491.2 L482.9 489.4 L479.1 489.5 L477.3 489.6 L475.4 488.7 L471.9 487.4 L469.7 488.1 L468.2 489.1 L465.3 490.4 L461.6 492.6 L458.4 493.8 L455.1 494.6 L457.4 497.6 L456.8 499.6 L456.4 502.3 L454.5 506.0 L453.8 508.2 L452.2 509.7 L450.5 511.9 L448.8 513.3 L446.6 515.5 L444.1 518.1 L440.4 520.1 L437.7 520.7 L434.2 521.1 L431.9 522.2 L429.5 521.0 L426.8 519.4 L425.6 518.5 L424.4 516.1 L421.1 513.8 L420.4 510.5 L418.1 507.9 L414.1 506.9 L412.5 503.5 L410.9 506.3 L409.1 509.4 L407.6 511.7 L408.3 514.8 L408.6 516.5 L409.9 519.2 L410.8 522.1 L408.4 524.7 L406.6 527.3 L402.7 527.9 L401.0 529.7 L397.4 529.8 L395.6 531.2 L391.3 531.5 L390.7 534.0 L390.5 536.6 L390.8 539.9 L388.0 542.3 L386.5 544.6 L382.8 545.7 L379.8 547.1 L376.8 550.4 L374.9 552.5 L371.3 554.2 L367.1 555.7 L364.7 557.8 L361.3 558.8 L359.0 559.5 L356.6 559.2 L353.4 557.8 L352.7 555.8 L349.7 554.0 L347.4 551.4 L346.9 548.0 L345.7 545.9 L344.1 543.5 L344.2 539.5 L340.2 540.5 L338.1 542.4 L335.7 544.8 L333.8 545.9 L330.3 548.9 L327.3 550.7 L326.1 552.1 L324.1 553.6 L326.7 558.9 L323.6 559.2 L319.3 560.6 L317.6 556.7 L314.5 554.1 L312.6 551.4 L309.1 549.2 L311.7 548.4 L316.9 548.8 L319.3 545.7 L322.3 544.4 L324.8 542.2 L328.5 539.1 L330.5 539.4 L333.4 538.8 L337.1 537.9 L340.0 537.6 L342.1 536.2 L344.3 534.2 L346.3 532.9 L348.8 532.2 L348.9 529.3 L350.2 527.3 L351.5 525.0 L352.0 522.9 L352.6 520.0 L351.8 516.5 L352.1 514.7 L354.7 513.4 L357.2 513.4 L359.7 511.2 L362.4 510.7 L364.4 508.2 L363.5 503.6 L361.7 500.2 L359.3 497.9 L359.5 494.8ZM246.5 484.5 L249.0 481.3 L250.1 481.8 L254.0 480.8 L257.6 478.2 L259.4 476.8 L262.5 475.2 L264.9 473.0 L266.1 471.9 L266.7 470.1 L268.2 466.2 L272.5 467.5 L275.6 466.4 L278.6 466.1 L281.8 470.2 L283.6 468.3 L287.1 469.2 L290.8 470.0 L293.9 469.6 L296.0 468.8 L300.2 467.7 L301.5 466.7 L304.0 465.0 L306.5 465.6 L305.8 468.6 L308.5 469.6 L311.2 470.7 L313.5 469.8 L316.6 470.4 L318.8 474.7 L315.6 474.6 L311.7 474.9 L308.0 474.9 L306.6 474.1 L303.2 474.5 L299.3 476.0 L300.7 480.2 L299.5 482.5 L303.7 483.0 L303.7 486.8 L305.2 490.5 L301.2 492.3 L299.9 492.8 L297.0 492.7 L293.4 491.9 L291.0 492.9 L288.2 494.8 L285.7 493.7 L283.4 492.5 L281.1 490.8 L279.7 487.3 L277.9 484.6 L273.9 486.3 L272.8 489.1 L273.0 491.7 L269.1 491.9 L269.7 487.0 L264.6 486.0 L262.0 487.1 L259.2 489.1 L255.8 488.9 L253.8 488.7 L250.9 488.3 L248.0 486.5ZM601.6 409.6 L604.2 411.6 L609.1 412.4 L612.0 410.2 L615.3 409.2 L619.9 409.2 L621.5 413.8 L623.6 417.0 L625.8 416.6 L627.7 417.5 L631.3 417.0 L633.0 419.1 L635.2 420.5 L634.4 423.5 L633.7 426.6 L632.2 429.1 L629.7 430.2 L632.4 430.6 L636.2 429.5 L638.9 427.3 L640.8 426.9 L644.6 426.8 L646.8 425.3 L648.5 425.6 L651.8 426.0 L653.1 422.3 L654.3 419.6 L657.4 418.7 L659.4 415.5 L663.3 414.3 L666.6 416.1 L670.0 415.5 L673.0 416.0 L675.9 414.9 L678.8 414.6 L681.5 412.9 L684.2 413.0 L685.5 412.8 L688.1 411.5 L690.2 412.1 L693.1 410.9 L693.3 413.4 L692.5 416.0 L689.1 418.8 L687.3 420.2 L684.9 421.4 L682.1 422.8 L678.8 423.5 L675.8 425.3 L672.7 425.7 L671.1 426.0 L667.1 424.9 L664.6 425.9 L663.3 428.2 L660.6 430.5 L658.5 432.7 L655.3 434.1 L651.5 434.9 L649.5 437.1 L648.0 436.8 L644.9 438.0 L642.3 438.2 L640.5 436.5 L637.1 435.2 L633.9 434.2 L630.4 434.0 L629.0 436.7 L628.2 439.0 L627.4 442.2 L626.6 445.1 L626.7 447.9 L628.4 451.0 L630.5 453.4 L626.5 456.9 L622.8 456.2 L619.9 456.8 L617.7 454.8 L615.5 455.1 L612.0 454.1 L609.8 454.6 L606.5 455.5 L605.0 459.2 L602.6 461.7 L599.6 462.7 L597.3 463.6 L594.5 464.7 L593.1 465.9 L592.0 469.2 L590.2 471.9 L590.3 473.0 L590.3 476.0 L589.7 479.6 L589.7 481.9 L589.5 484.2 L590.7 486.0 L590.3 488.5 L590.3 492.7 L591.5 494.9 L593.7 496.7 L592.7 499.8 L592.7 501.8 L589.5 502.0 L586.9 502.2 L584.3 500.9 L582.4 500.9 L578.5 503.5 L576.9 505.2 L573.9 506.4 L570.6 506.3 L570.5 503.7 L570.9 500.9 L571.8 498.6 L573.3 496.6 L575.1 493.3 L575.1 490.9 L573.6 487.5 L574.0 484.9 L575.7 481.9 L577.8 479.3 L578.7 476.7 L578.7 474.1 L579.8 471.1 L577.7 470.5 L575.8 467.6 L573.7 465.8 L574.4 465.7 L577.2 462.7 L579.4 462.0 L583.3 460.3 L584.7 459.5 L587.2 459.3 L590.7 459.4 L593.6 458.1 L596.2 457.1 L598.7 453.5 L600.6 451.6 L600.6 449.7 L601.8 445.7 L602.4 444.1 L601.6 440.6 L600.9 436.7 L601.3 434.0 L602.5 430.3 L602.7 427.8 L603.4 425.3 L603.2 422.1 L603.9 418.0 L602.4 414.6 L602.1 412.0Z" stroke-width="1.35"/>
<path d="M315.4 492.3 L318.7 493.6 L319.4 495.3 L315.6 495.5ZM199.0 474.8 L201.4 473.7 L204.4 475.8 L205.7 477.4 L206.8 480.6 L209.5 481.6 L208.2 484.1 L209.1 487.0 L206.9 490.0 L202.0 490.4 L198.9 489.8 L199.8 485.4 L199.5 483.1 L200.1 480.1 L198.0 476.7ZM178.9 502.4 L180.3 501.0 L183.2 500.3 L187.3 498.1 L185.2 500.2 L185.2 503.2 L181.3 504.3 L179.4 503.2ZM282.1 549.4 L285.9 548.7 L288.8 547.5 L290.9 548.1 L293.2 548.1 L296.2 547.1 L298.0 547.3 L300.5 545.2 L303.5 549.7 L301.3 551.6 L297.3 553.2 L295.1 553.8 L293.4 554.0 L289.7 552.9 L288.5 553.4 L284.5 552.7 L281.4 553.0ZM461.3 502.2 L462.1 504.9 L464.5 506.8 L463.0 510.8 L460.7 508.4 L461.0 505.8ZM439.5 429.7 L441.2 429.2 L444.8 428.1 L444.6 431.8 L445.3 434.4 L447.7 437.7 L450.0 437.8 L454.2 438.3 L456.6 439.3 L458.2 439.1 L461.9 440.5 L461.1 443.4 L462.7 445.7 L462.5 447.7 L461.0 450.5 L457.7 452.7 L456.9 454.6 L454.8 456.8 L452.4 457.8 L450.1 458.9 L449.8 455.7 L448.7 453.1 L446.2 452.2 L444.0 450.4 L443.2 449.9 L439.1 445.8 L440.6 442.5 L441.6 439.5 L440.4 436.7 L438.6 433.1ZM481.4 422.6 L484.0 421.8 L486.4 421.0 L490.3 422.0 L489.8 424.4 L489.8 427.4 L492.3 431.0 L492.8 432.1 L492.5 435.0 L491.2 438.2 L490.0 440.5 L489.2 443.4 L488.6 446.4 L488.9 449.3 L491.1 451.7 L492.5 451.8 L494.8 453.5 L498.2 452.6 L500.4 452.9 L502.7 451.2 L505.4 451.0 L509.0 450.6 L511.5 451.2 L513.5 449.5 L516.6 449.0 L517.6 452.8 L514.6 454.9 L512.4 457.4 L510.2 457.7 L507.9 458.0 L504.3 458.0 L501.5 458.8 L497.4 459.1 L494.9 459.5 L493.9 461.9 L492.2 464.0 L491.1 464.8 L487.4 465.7 L484.9 468.3 L482.7 468.4 L481.5 466.4 L479.6 464.5 L478.2 467.6 L477.6 469.1 L474.9 467.8 L474.7 463.2 L475.6 463.0 L478.2 461.3 L479.9 459.6 L480.5 457.0 L481.6 454.8 L482.3 451.4 L481.7 449.1 L481.7 445.1 L481.7 443.6 L480.3 439.4 L480.9 437.9 L479.4 434.5 L480.8 432.0 L479.9 427.7 L480.0 425.1ZM656.1 381.0 L658.5 381.8 L662.1 382.0 L659.6 384.1 L659.6 386.3 L653.5 388.3 L655.7 384.8ZM640.7 399.0 L643.2 400.3 L647.4 400.4 L648.3 402.9 L650.1 404.9 L649.9 408.9 L652.5 408.9 L655.1 409.6 L654.1 412.5 L650.5 413.6 L646.9 413.6 L646.1 410.2 L644.9 406.5 L642.5 403.8ZM655.6 401.5 L659.2 399.5 L660.0 404.4 L656.1 406.1 L655.7 404.4ZM615.3 402.3 L619.5 400.3 L621.0 399.9 L624.0 398.0 L627.0 397.7 L626.0 401.6 L625.5 404.4 L623.7 406.5 L622.0 408.3 L618.5 408.4 L617.3 404.3ZM580.2 407.9 L584.2 404.6 L583.9 409.5ZM557.5 422.7 L560.2 422.3 L564.6 422.5 L565.5 425.2 L561.5 427.5 L558.0 427.6ZM555.1 435.5 L557.7 435.7 L560.7 435.4 L563.0 436.2 L565.9 435.0 L567.3 438.4 L564.8 441.0 L562.0 442.0 L559.0 441.0 L556.4 441.2 L556.4 438.4ZM544.5 435.6 L548.4 435.0 L548.8 438.1 L545.2 439.1ZM563.2 513.0 L567.2 511.4 L570.4 514.1 L569.6 516.9 L567.3 520.5 L565.0 521.4 L565.4 518.4 L563.6 516.0ZM559.2 531.9 L563.3 532.1 L564.3 536.0 L561.0 535.6ZM559.5 538.5 L563.0 538.8 L559.9 543.9ZM529.9 552.6 L533.0 551.3 L535.5 550.1 L537.7 548.3 L539.7 546.0 L542.9 545.7 L545.6 546.2 L548.8 545.4 L549.1 549.3 L548.5 551.1 L548.8 553.9 L547.7 556.1 L548.1 559.3 L544.9 558.7 L542.9 558.1 L539.9 557.8 L537.2 557.1 L535.7 556.1 L533.1 554.2ZM504.6 549.8 L508.5 549.4 L510.8 552.4 L512.4 554.6 L513.6 556.9 L514.6 558.8 L513.2 562.3 L512.8 566.0 L515.9 566.6 L518.3 569.7 L519.5 569.9 L520.9 575.0 L521.2 577.8 L517.9 577.9 L515.8 578.0 L512.8 576.0 L510.4 574.8 L509.3 571.3 L508.5 569.9 L508.7 565.6 L508.0 563.7 L506.7 561.1 L505.8 559.1 L504.2 556.4 L504.8 553.4ZM485.9 570.5 L488.5 569.5 L489.8 567.3 L492.1 567.1 L496.6 566.4 L499.6 565.9 L499.1 568.4 L496.9 573.2 L496.6 575.5 L497.3 579.1 L497.7 580.8 L493.2 582.1 L492.3 579.0 L490.6 575.3 L485.9 576.6 L485.7 572.9ZM411.0 594.6 L413.9 592.3 L416.9 590.9 L420.8 589.6 L423.2 588.5 L427.8 588.7 L429.5 588.0 L432.0 590.0 L433.9 592.4 L438.1 592.2 L441.0 592.6 L439.8 589.5 L439.6 586.7 L438.1 584.3 L439.0 582.2 L439.7 584.0 L441.7 584.9 L444.0 586.0 L447.5 590.0 L451.2 589.9 L453.6 587.8 L454.5 591.3 L454.1 594.2 L453.8 597.0 L455.1 599.9 L454.7 603.2 L454.5 605.2 L454.5 607.7 L456.4 611.2 L455.5 614.7 L457.0 617.9 L458.4 621.6 L455.5 624.4 L452.8 622.9 L449.5 621.8 L447.7 617.3 L448.1 614.4 L446.9 611.6 L447.3 607.3 L448.6 604.7 L448.3 602.3 L448.1 599.9 L447.5 598.0 L445.3 596.5 L442.7 595.9 L439.3 597.4 L436.5 597.1 L433.8 597.8 L431.1 598.5 L429.7 599.8 L428.0 601.6 L426.8 604.2 L424.6 600.4 L421.0 600.9 L419.2 602.4 L416.1 598.4 L413.3 597.1ZM454.9 576.9 L459.4 576.6 L462.1 579.5 L461.7 584.6 L456.8 581.8 L456.2 580.5ZM397.1 618.1 L399.8 617.8 L399.5 621.4 L396.0 621.8ZM401.3 629.5 L403.1 628.8 L405.7 629.5 L408.6 630.6 L410.8 633.0 L414.1 631.8 L417.4 629.7 L420.0 629.3 L423.4 629.6 L425.2 630.1 L428.9 631.5 L430.6 630.3 L432.3 633.8 L432.4 637.3 L432.5 638.8 L428.6 640.0 L424.6 639.0 L423.5 636.5 L420.4 636.6 L418.1 636.8 L415.2 639.9 L413.9 640.9 L414.6 645.3 L411.1 647.0 L406.8 649.1 L405.0 648.6 L402.6 650.8 L399.6 649.9 L395.7 647.9 L394.0 646.6 L396.7 643.9 L397.5 642.4 L398.5 639.1 L400.4 637.3 L402.3 633.1 L402.5 630.5Z" stroke-width="1.2"/>
<path d="M600.0 126.7 L605.2 128.9 L607.4 129.3 L607.8 132.8 L610.9 135.7 L612.3 138.3 L615.8 141.5 L616.8 143.1 L617.8 147.0 L619.2 145.5 L622.2 143.4 L623.3 141.0 L627.8 140.7 L632.5 144.5 L635.4 147.0 L637.6 144.6 L640.0 143.2 L645.5 144.5 L646.6 145.9 L649.8 146.9 L653.2 146.8 L656.5 148.3 L658.6 149.5 L661.1 150.2 L663.4 150.8 L665.1 152.7 L667.3 152.5 L671.2 153.0 L673.9 153.5 L678.0 152.3 L680.9 153.1 L683.5 153.1 L687.1 153.9 L689.8 154.7 L693.5 153.9 L695.0 156.6 L696.4 157.4 L698.2 158.5 L700.9 159.7 L702.8 162.6 L705.5 163.3 L709.4 165.0 L712.6 166.7 L714.4 167.4 L716.2 170.4 L717.3 172.5 L720.0 173.5 L722.5 175.3 L725.8 176.3 L728.5 179.6 L729.9 182.5 L731.7 184.1 L734.3 186.7 L736.3 187.5 L739.0 186.8" stroke-width="2.0"/>
<path d="M603.4 117.5h2.8v2.8h-2.8ZM610.2 120.2h1.8v1.8h-1.8ZM619.6 118.9h2.5v2.5h-2.5ZM623.2 116.7h1.8v1.8h-1.8ZM625.0 115.0h1.8v1.8h-1.8ZM631.6 115.8h1.9v1.9h-1.9ZM640.0 119.3h2.6v2.6h-2.6ZM653.6 120.2h2.0v2.0h-2.0ZM657.2 120.1h2.7v2.7h-2.7ZM660.3 121.7h2.2v2.2h-2.2ZM668.8 122.2h2.7v2.7h-2.7ZM671.0 118.3h2.9v2.9h-2.9ZM674.1 115.0h2.7v2.7h-2.7ZM675.7 113.7h2.6v2.6h-2.6ZM683.5 114.9h2.9v2.9h-2.9ZM695.5 119.5h2.0v2.0h-2.0ZM709.5 131.5h3.0v3.0h-3.0ZM715.8 136.1h2.2v2.2h-2.2ZM721.9 142.6h2.3v2.3h-2.3ZM728.1 152.0h2.8v2.8h-2.8ZM733.4 157.5h2.0v2.0h-2.0ZM735.6 160.8h2.0v2.0h-2.0ZM736.9 162.8h2.7v2.7h-2.7ZM741.3 180.2h1.9v1.9h-1.9ZM741.0 182.3h2.1v2.1h-2.1ZM731.0 183.5h2.5v2.5h-2.5ZM729.3 181.8h2.8v2.8h-2.8ZM722.6 174.5h3.0v3.0h-3.0ZM720.7 173.3h2.0v2.0h-2.0ZM717.4 170.9h2.5v2.5h-2.5ZM712.9 167.2h2.4v2.4h-2.4ZM710.3 165.1h2.5v2.5h-2.5ZM707.5 163.8h1.9v1.9h-1.9ZM704.3 162.0h2.9v2.9h-2.9ZM697.9 158.0h2.0v2.0h-2.0ZM693.0 154.5h2.9v2.9h-2.9ZM691.8 153.8h2.0v2.0h-2.0ZM678.2 151.9h1.8v1.8h-1.8ZM676.0 151.3h2.6v2.6h-2.6ZM671.6 151.5h2.5v2.5h-2.5ZM666.3 151.8h1.9v1.9h-1.9ZM664.2 151.7h2.0v2.0h-2.0ZM659.9 149.5h2.3v2.3h-2.3ZM656.2 147.4h2.0v2.0h-2.0ZM651.8 145.8h2.6v2.6h-2.6ZM647.1 144.6h2.5v2.5h-2.5ZM639.9 142.1h2.8v2.8h-2.8ZM634.4 144.4h2.9v2.9h-2.9ZM628.9 141.7h2.9v2.9h-2.9ZM628.2 141.3h2.7v2.7h-2.7ZM625.0 140.2h2.8v2.8h-2.8ZM619.8 143.6h2.0v2.0h-2.0ZM616.9 145.4h1.8v1.8h-1.8ZM614.8 141.5h2.9v2.9h-2.9ZM610.7 135.9h2.7v2.7h-2.7ZM608.5 132.2h2.0v2.0h-2.0ZM607.6 131.0h1.8v1.8h-1.8ZM599.6 126.0h2.0v2.0h-2.0ZM359.0 488.3h2.4v2.4h-2.4ZM360.2 486.2h2.3v2.3h-2.3ZM362.0 483.9h2.9v2.9h-2.9ZM376.3 472.6h2.1v2.1h-2.1ZM389.0 475.0h1.9v1.9h-1.9ZM393.5 473.9h1.8v1.8h-1.8ZM394.5 473.1h2.2v2.2h-2.2ZM400.3 474.5h2.8v2.8h-2.8ZM402.2 475.0h2.5v2.5h-2.5ZM404.7 475.2h2.9v2.9h-2.9ZM410.3 474.3h2.9v2.9h-2.9ZM416.4 471.1h2.2v2.2h-2.2ZM426.6 477.3h2.2v2.2h-2.2ZM427.6 477.3h2.9v2.9h-2.9ZM436.7 475.0h2.0v2.0h-2.0ZM441.6 472.4h2.7v2.7h-2.7ZM445.2 466.3h2.8v2.8h-2.8ZM451.5 463.3h2.9v2.9h-2.9ZM453.4 463.9h2.1v2.1h-2.1ZM459.1 466.1h2.0v2.0h-2.0ZM460.0 467.6h2.6v2.6h-2.6ZM465.2 474.2h2.9v2.9h-2.9ZM470.7 474.7h2.9v2.9h-2.9ZM479.0 478.1h1.9v1.9h-1.9ZM486.1 476.6h2.4v2.4h-2.4ZM490.4 477.6h2.1v2.1h-2.1ZM494.8 479.7h1.9v1.9h-1.9ZM497.7 481.9h2.1v2.1h-2.1ZM499.9 484.3h2.0v2.0h-2.0ZM503.1 494.6h2.7v2.7h-2.7ZM501.9 498.8h2.4v2.4h-2.4ZM499.5 499.2h2.6v2.6h-2.6ZM497.2 502.9h2.7v2.7h-2.7ZM494.8 502.5h2.8v2.8h-2.8ZM494.0 493.8h2.0v2.0h-2.0ZM489.0 489.9h2.1v2.1h-2.1ZM484.1 488.9h2.7v2.7h-2.7ZM477.6 488.2h2.1v2.1h-2.1ZM471.3 486.8h2.5v2.5h-2.5ZM456.7 492.7h1.8v1.8h-1.8ZM455.7 496.2h2.3v2.3h-2.3ZM455.4 501.5h1.9v1.9h-1.9ZM448.6 511.3h2.1v2.1h-2.1ZM447.3 512.9h1.9v1.9h-1.9ZM443.3 516.3h2.4v2.4h-2.4ZM440.2 518.5h1.9v1.9h-1.9ZM433.9 520.4h2.0v2.0h-2.0ZM420.4 512.2h2.2v2.2h-2.2ZM417.1 507.2h1.9v1.9h-1.9ZM414.0 504.8h3.0v3.0h-3.0ZM411.8 503.4h2.7v2.7h-2.7ZM409.8 504.1h2.9v2.9h-2.9ZM408.1 508.6h2.2v2.2h-2.2ZM407.1 511.2h1.8v1.8h-1.8ZM405.1 526.3h2.5v2.5h-2.5ZM400.4 527.6h2.9v2.9h-2.9ZM397.0 528.4h3.0v3.0h-3.0ZM390.4 532.1h2.6v2.6h-2.6ZM389.4 535.8h2.6v2.6h-2.6ZM378.3 546.8h2.8v2.8h-2.8ZM374.1 550.2h2.1v2.1h-2.1ZM372.5 550.9h2.5v2.5h-2.5ZM369.4 553.4h2.1v2.1h-2.1ZM365.4 555.5h2.3v2.3h-2.3ZM351.1 554.8h1.9v1.9h-1.9ZM346.4 549.0h1.8v1.8h-1.8ZM344.5 545.3h2.3v2.3h-2.3ZM337.5 540.8h2.0v2.0h-2.0ZM329.8 546.6h2.7v2.7h-2.7ZM325.1 550.6h2.3v2.3h-2.3ZM324.3 555.6h2.2v2.2h-2.2ZM321.8 557.9h2.3v2.3h-2.3ZM318.6 558.2h2.0v2.0h-2.0ZM312.3 551.8h2.3v2.3h-2.3ZM309.4 549.8h2.6v2.6h-2.6ZM311.8 547.5h2.6v2.6h-2.6ZM313.9 547.2h2.1v2.1h-2.1ZM321.0 542.3h2.8v2.8h-2.8ZM324.3 540.6h2.2v2.2h-2.2ZM327.0 539.2h1.8v1.8h-1.8ZM346.6 530.3h2.9v2.9h-2.9ZM348.3 526.7h2.6v2.6h-2.6ZM351.0 515.7h1.9v1.9h-1.9ZM351.4 513.0h1.9v1.9h-1.9ZM354.8 511.8h2.4v2.4h-2.4ZM358.0 511.1h2.3v2.3h-2.3ZM361.0 508.4h2.6v2.6h-2.6ZM362.6 505.7h2.2v2.2h-2.2ZM361.1 501.5h2.5v2.5h-2.5ZM245.6 482.6h2.4v2.4h-2.4ZM250.5 480.0h2.6v2.6h-2.6ZM252.6 479.7h2.4v2.4h-2.4ZM257.3 475.8h3.0v3.0h-3.0ZM260.6 474.6h1.9v1.9h-1.9ZM266.4 467.4h2.8v2.8h-2.8ZM269.6 465.5h2.4v2.4h-2.4ZM271.9 465.2h2.9v2.9h-2.9ZM276.0 465.6h2.1v2.1h-2.1ZM282.6 468.0h2.0v2.0h-2.0ZM288.1 467.6h2.8v2.8h-2.8ZM314.9 469.5h2.2v2.2h-2.2ZM317.3 472.7h1.8v1.8h-1.8ZM315.7 473.1h2.8v2.8h-2.8ZM298.8 478.1h1.9v1.9h-1.9ZM303.0 485.5h2.6v2.6h-2.6ZM290.6 492.7h1.9v1.9h-1.9ZM268.7 490.8h2.2v2.2h-2.2ZM267.7 487.6h2.8v2.8h-2.8ZM263.5 484.4h2.7v2.7h-2.7ZM257.9 487.6h2.1v2.1h-2.1ZM252.5 487.8h2.6v2.6h-2.6ZM245.4 483.1h2.9v2.9h-2.9ZM315.1 491.6h2.8v2.8h-2.8ZM200.4 472.3h2.5v2.5h-2.5ZM204.3 474.8h1.8v1.8h-1.8ZM207.4 481.8h2.6v2.6h-2.6ZM204.0 488.7h2.1v2.1h-2.1ZM198.7 486.9h2.1v2.1h-2.1ZM199.7 483.6h1.8v1.8h-1.8ZM198.6 478.2h2.1v2.1h-2.1ZM184.2 497.3h1.8v1.8h-1.8ZM185.2 496.2h2.6v2.6h-2.6ZM183.7 500.4h2.9v2.9h-2.9ZM180.2 503.4h2.5v2.5h-2.5ZM285.2 546.6h2.8v2.8h-2.8ZM290.8 546.7h2.5v2.5h-2.5ZM298.4 545.5h2.3v2.3h-2.3ZM299.8 550.3h2.0v2.0h-2.0ZM295.3 552.1h2.1v2.1h-2.1ZM291.2 552.2h2.6v2.6h-2.6ZM290.4 552.6h2.1v2.1h-2.1ZM283.6 552.2h2.6v2.6h-2.6ZM460.9 503.4h2.4v2.4h-2.4ZM463.8 506.3h1.8v1.8h-1.8ZM460.2 507.2h1.8v1.8h-1.8ZM439.0 428.3h2.1v2.1h-2.1ZM445.8 436.9h2.1v2.1h-2.1ZM449.0 436.7h2.8v2.8h-2.8ZM455.5 437.5h2.3v2.3h-2.3ZM460.3 439.6h2.4v2.4h-2.4ZM460.3 446.9h3.0v3.0h-3.0ZM458.2 449.6h2.0v2.0h-2.0ZM455.9 451.8h2.0v2.0h-2.0ZM445.5 451.0h1.8v1.8h-1.8ZM439.8 446.3h2.6v2.6h-2.6ZM439.5 438.0h2.6v2.6h-2.6ZM438.8 434.0h1.8v1.8h-1.8ZM488.1 420.2h2.2v2.2h-2.2ZM489.0 425.4h2.7v2.7h-2.7ZM492.1 431.8h2.4v2.4h-2.4ZM490.2 435.2h2.6v2.6h-2.6ZM488.3 443.6h2.0v2.0h-2.0ZM488.4 446.7h2.2v2.2h-2.2ZM489.0 449.3h2.3v2.3h-2.3ZM500.5 451.3h2.2v2.2h-2.2ZM503.5 450.2h2.5v2.5h-2.5ZM511.8 449.3h1.9v1.9h-1.9ZM516.1 451.6h2.1v2.1h-2.1ZM508.7 456.0h2.2v2.2h-2.2ZM495.8 458.1h2.2v2.2h-2.2ZM491.9 461.3h2.1v2.1h-2.1ZM475.5 468.7h2.0v2.0h-2.0ZM473.1 464.3h2.3v2.3h-2.3ZM480.6 453.1h2.8v2.8h-2.8ZM481.2 448.1h2.2v2.2h-2.2ZM479.5 441.5h2.5v2.5h-2.5ZM479.0 436.2h2.7v2.7h-2.7ZM479.1 432.7h1.9v1.9h-1.9ZM479.1 427.7h2.5v2.5h-2.5ZM599.8 409.0h2.5v2.5h-2.5ZM603.7 410.9h2.7v2.7h-2.7ZM607.2 410.3h2.6v2.6h-2.6ZM619.5 410.4h2.6v2.6h-2.6ZM629.9 416.2h1.9v1.9h-1.9ZM632.2 417.8h2.0v2.0h-2.0ZM632.5 425.6h2.3v2.3h-2.3ZM633.8 428.3h2.4v2.4h-2.4ZM635.0 427.8h2.6v2.6h-2.6ZM648.2 424.4h2.2v2.2h-2.2ZM652.4 422.4h1.8v1.8h-1.8ZM653.9 419.9h2.0v2.0h-2.0ZM659.5 415.1h2.1v2.1h-2.1ZM668.1 414.7h2.3v2.3h-2.3ZM678.8 412.5h2.1v2.1h-2.1ZM684.4 411.4h2.4v2.4h-2.4ZM691.3 410.8h1.9v1.9h-1.9ZM692.5 411.3h1.8v1.8h-1.8ZM684.5 418.7h2.7v2.7h-2.7ZM675.2 424.2h1.9v1.9h-1.9ZM670.7 424.1h2.7v2.7h-2.7ZM667.8 424.3h2.8v2.8h-2.8ZM662.2 426.7h1.9v1.9h-1.9ZM658.1 430.2h2.5v2.5h-2.5ZM654.4 432.5h2.5v2.5h-2.5ZM646.3 435.9h2.4v2.4h-2.4ZM626.5 439.0h2.6v2.6h-2.6ZM625.5 445.0h2.5v2.5h-2.5ZM627.7 450.9h2.2v2.2h-2.2ZM618.9 455.2h2.3v2.3h-2.3ZM613.8 453.1h2.7v2.7h-2.7ZM598.0 461.1h2.6v2.6h-2.6ZM593.1 463.4h2.3v2.3h-2.3ZM590.1 468.9h1.8v1.8h-1.8ZM588.8 472.6h2.9v2.9h-2.9ZM588.8 478.2h3.0v3.0h-3.0ZM588.6 482.8h2.9v2.9h-2.9ZM588.2 487.8h2.9v2.9h-2.9ZM589.4 501.3h1.9v1.9h-1.9ZM585.0 500.2h2.8v2.8h-2.8ZM580.8 499.8h2.0v2.0h-2.0ZM579.4 500.4h2.5v2.5h-2.5ZM569.7 501.5h2.7v2.7h-2.7ZM573.1 493.0h2.5v2.5h-2.5ZM576.8 475.7h2.4v2.4h-2.4ZM577.7 472.5h2.6v2.6h-2.6ZM571.8 465.6h2.4v2.4h-2.4ZM575.3 463.4h2.0v2.0h-2.0ZM577.2 462.3h1.8v1.8h-1.8ZM582.9 459.6h2.3v2.3h-2.3ZM597.6 452.5h2.2v2.2h-2.2ZM600.5 445.1h2.6v2.6h-2.6ZM601.4 442.3h2.0v2.0h-2.0ZM600.9 439.7h2.2v2.2h-2.2ZM600.5 436.5h2.3v2.3h-2.3ZM601.0 430.0h2.2v2.2h-2.2ZM601.8 421.1h2.9v2.9h-2.9ZM656.4 379.8h2.8v2.8h-2.8ZM659.8 381.1h2.6v2.6h-2.6ZM657.8 385.5h2.6v2.6h-2.6ZM653.6 385.5h2.2v2.2h-2.2ZM639.7 398.4h2.4v2.4h-2.4ZM646.8 401.3h2.5v2.5h-2.5ZM648.5 405.0h1.9v1.9h-1.9ZM640.8 401.8h3.0v3.0h-3.0ZM654.5 400.9h1.9v1.9h-1.9ZM617.7 399.7h2.7v2.7h-2.7ZM621.0 397.2h2.7v2.7h-2.7ZM623.2 396.1h2.8v2.8h-2.8ZM624.4 399.8h2.3v2.3h-2.3ZM622.2 404.9h2.2v2.2h-2.2ZM617.9 406.4h2.8v2.8h-2.8ZM580.6 407.4h2.5v2.5h-2.5ZM558.0 421.7h2.3v2.3h-2.3ZM562.8 421.8h2.4v2.4h-2.4ZM561.9 426.1h2.1v2.1h-2.1ZM566.8 437.5h2.3v2.3h-2.3ZM556.5 440.1h2.1v2.1h-2.1ZM545.3 433.7h2.1v2.1h-2.1ZM563.4 517.4h2.3v2.3h-2.3ZM561.2 530.6h2.0v2.0h-2.0ZM558.2 538.0h2.5v2.5h-2.5ZM532.2 549.4h2.2v2.2h-2.2ZM533.2 548.8h2.2v2.2h-2.2ZM540.3 545.0h2.4v2.4h-2.4ZM543.7 544.2h2.4v2.4h-2.4ZM546.4 555.6h2.9v2.9h-2.9ZM544.2 558.0h2.3v2.3h-2.3ZM540.4 557.4h2.8v2.8h-2.8ZM535.5 555.9h2.5v2.5h-2.5ZM532.6 554.6h2.0v2.0h-2.0ZM509.6 551.8h2.5v2.5h-2.5ZM513.0 556.7h2.1v2.1h-2.1ZM512.8 560.1h1.9v1.9h-1.9ZM512.1 562.8h2.6v2.6h-2.6ZM517.0 568.1h2.2v2.2h-2.2ZM519.1 569.6h2.2v2.2h-2.2ZM517.9 576.9h1.9v1.9h-1.9ZM513.7 576.5h2.6v2.6h-2.6ZM511.4 575.0h2.2v2.2h-2.2ZM507.8 568.7h2.6v2.6h-2.6ZM505.8 561.0h2.5v2.5h-2.5ZM502.5 552.6h2.9v2.9h-2.9ZM487.8 567.2h2.8v2.8h-2.8ZM489.3 566.6h2.2v2.2h-2.2ZM495.3 580.6h2.0v2.0h-2.0ZM491.7 579.2h2.6v2.6h-2.6ZM487.2 575.0h2.0v2.0h-2.0ZM413.2 591.2h2.6v2.6h-2.6ZM419.0 589.1h2.0v2.0h-2.0ZM420.1 588.2h2.8v2.8h-2.8ZM429.1 587.2h2.6v2.6h-2.6ZM434.1 591.1h1.8v1.8h-1.8ZM437.7 583.4h2.5v2.5h-2.5ZM437.8 581.1h1.8v1.8h-1.8ZM447.7 588.1h2.8v2.8h-2.8ZM453.3 593.6h2.8v2.8h-2.8ZM453.4 597.8h1.8v1.8h-1.8ZM453.4 599.0h2.1v2.1h-2.1ZM453.3 601.9h3.0v3.0h-3.0ZM454.4 608.8h2.2v2.2h-2.2ZM456.4 620.3h2.5v2.5h-2.5ZM454.9 621.1h2.8v2.8h-2.8ZM447.1 616.8h2.4v2.4h-2.4ZM446.3 611.3h2.6v2.6h-2.6ZM446.4 604.6h3.0v3.0h-3.0ZM443.5 595.6h2.8v2.8h-2.8ZM440.5 595.3h2.6v2.6h-2.6ZM438.9 595.8h2.0v2.0h-2.0ZM426.1 603.5h2.3v2.3h-2.3ZM423.6 600.5h2.4v2.4h-2.4ZM416.9 600.0h2.4v2.4h-2.4ZM459.1 576.8h1.8v1.8h-1.8ZM398.3 619.2h2.7v2.7h-2.7ZM401.8 628.5h2.1v2.1h-2.1ZM403.5 628.6h2.6v2.6h-2.6ZM408.5 630.8h1.9v1.9h-1.9ZM416.8 628.8h1.8v1.8h-1.8ZM426.1 629.5h2.0v2.0h-2.0ZM430.0 629.9h1.9v1.9h-1.9ZM430.4 632.0h2.1v2.1h-2.1ZM431.0 636.2h1.8v1.8h-1.8ZM430.1 638.1h2.3v2.3h-2.3ZM424.6 637.1h2.3v2.3h-2.3ZM400.0 649.0h2.4v2.4h-2.4ZM396.6 647.7h2.4v2.4h-2.4ZM394.3 642.5h2.9v2.9h-2.9ZM401.2 632.9h2.7v2.7h-2.7Z" fill="#000" stroke="none"/>
</g>
<rect x="124.2" y="71.0" width="751.4" height="658.8" fill="none" stroke="#000" stroke-width="2"/>
<path d="M130.5 729.8V734.3M227.8 729.8V734.3M325.1 729.8V734.3M422.4 729.8V734.3M519.7 729.8V734.3M617.0 729.8V734.3M714.3 729.8V734.3M811.6 729.8V734.3M124.2 718.4H119.7M124.2 657.9H119.7M124.2 597.4H119.7M124.2 536.9H119.7M124.2 476.4H119.7M124.2 415.8H119.7M124.2 355.3H119.7M124.2 294.8H119.7M124.2 234.3H119.7M124.2 173.8H119.7M124.2 113.3H119.7" stroke="#000" stroke-width="1.2" fill="none"/>
<text x="130.9" y="747.8" font-size="14.2" stroke-width="0" text-anchor="middle" textLength="37.6" lengthAdjust="spacingAndGlyphs">64.9W</text>
<text x="228.2" y="747.8" font-size="14.2" stroke-width="0" text-anchor="middle" textLength="37.6" lengthAdjust="spacingAndGlyphs">64.8W</text>
<text x="325.5" y="747.8" font-size="14.2" stroke-width="0" text-anchor="middle" textLength="37.6" lengthAdjust="spacingAndGlyphs">64.7W</text>
<text x="422.8" y="747.8" font-size="14.2" stroke-width="0" text-anchor="middle" textLength="37.6" lengthAdjust="spacingAndGlyphs">64.6W</text>
<text x="520.1" y="747.8" font-size="14.2" stroke-width="0" text-anchor="middle" textLength="37.6" lengthAdjust="spacingAndGlyphs">64.5W</text>
<text x="617.4" y="747.8" font-size="14.2" stroke-width="0" text-anchor="middle" textLength="37.6" lengthAdjust="spacingAndGlyphs">64.4W</text>
<text x="714.7" y="747.8" font-size="14.2" stroke-width="0" text-anchor="middle" textLength="37.6" lengthAdjust="spacingAndGlyphs">64.3W</text>
<text x="812.0" y="747.8" font-size="14.2" stroke-width="0" text-anchor="middle" textLength="37.6" lengthAdjust="spacingAndGlyphs">64.2W</text>
<text x="115.8" y="723.6" font-size="14.5" stroke-width="0" text-anchor="end" textLength="44" lengthAdjust="spacingAndGlyphs">18.25N</text>
<text x="115.8" y="663.1" font-size="14.5" stroke-width="0" text-anchor="end" textLength="35" lengthAdjust="spacingAndGlyphs">18.3N</text>
<text x="115.8" y="602.6" font-size="14.5" stroke-width="0" text-anchor="end" textLength="44" lengthAdjust="spacingAndGlyphs">18.35N</text>
<text x="115.8" y="542.1" font-size="14.5" stroke-width="0" text-anchor="end" textLength="35" lengthAdjust="spacingAndGlyphs">18.4N</text>
<text x="115.8" y="481.6" font-size="14.5" stroke-width="0" text-anchor="end" textLength="44" lengthAdjust="spacingAndGlyphs">18.45N</text>
<text x="115.8" y="421.0" font-size="14.5" stroke-width="0" text-anchor="end" textLength="35" lengthAdjust="spacingAndGlyphs">18.5N</text>
<text x="115.8" y="360.5" font-size="14.5" stroke-width="0" text-anchor="end" textLength="44" lengthAdjust="spacingAndGlyphs">18.55N</text>
<text x="115.8" y="300.0" font-size="14.5" stroke-width="0" text-anchor="end" textLength="35" lengthAdjust="spacingAndGlyphs">18.6N</text>
<text x="115.8" y="239.5" font-size="14.5" stroke-width="0" text-anchor="end" textLength="44" lengthAdjust="spacingAndGlyphs">18.65N</text>
<text x="115.8" y="179.0" font-size="14.5" stroke-width="0" text-anchor="end" textLength="35" lengthAdjust="spacingAndGlyphs">18.7N</text>
<text x="115.8" y="118.5" font-size="14.5" stroke-width="0" text-anchor="end" textLength="44" lengthAdjust="spacingAndGlyphs">18.75N</text>
<rect x="928.8" y="635.92" width="17.4" height="42.83" fill="#aaaaaa" stroke="#000" stroke-width="1"/>
<rect x="928.8" y="593.10" width="17.4" height="42.83" fill="#a000c8" stroke="#000" stroke-width="1"/>
<rect x="928.8" y="550.27" width="17.4" height="42.83" fill="#8200dc" stroke="#000" stroke-width="1"/>
<rect x="928.8" y="507.44" width="17.4" height="42.83" fill="#1e3cff" stroke="#000" stroke-width="1"/>
<rect x="928.8" y="464.62" width="17.4" height="42.83" fill="#00a0ff" stroke="#000" stroke-width="1"/>
<rect x="928.8" y="421.79" width="17.4" height="42.83" fill="#00c8c8" stroke="#000" stroke-width="1"/>
<rect x="928.8" y="378.96" width="17.4" height="42.83" fill="#00d28c" stroke="#000" stroke-width="1"/>
<rect x="928.8" y="336.13" width="17.4" height="42.83" fill="#00dc00" stroke="#000" stroke-width="1"/>
<rect x="928.8" y="293.31" width="17.4" height="42.83" fill="#a0e632" stroke="#000" stroke-width="1"/>
<rect x="928.8" y="250.48" width="17.4" height="42.83" fill="#e6dc32" stroke="#000" stroke-width="1"/>
<rect x="928.8" y="207.65" width="17.4" height="42.83" fill="#e6af2d" stroke="#000" stroke-width="1"/>
<rect x="928.8" y="164.83" width="17.4" height="42.83" fill="#f08228" stroke="#000" stroke-width="1"/>
<rect x="928.8" y="122.00" width="17.4" height="42.83" fill="#fa3c3c" stroke="#000" stroke-width="1"/>
<path d="M928.8 122.0 L937.50 80 L946.2 122.0Z" fill="#f00082" stroke="#000" stroke-width="1"/>
<path d="M928.8 678.75 L937.50 720.8 L946.2 678.75Z" fill="#fff" stroke="#000" stroke-width="1"/>
<text x="952.2" y="685.9" font-size="18" stroke-width="0.6" textLength="11.1" lengthAdjust="spacingAndGlyphs">1</text>
<text x="952.2" y="643.0" font-size="18" stroke-width="0.6" textLength="11.1" lengthAdjust="spacingAndGlyphs">5</text>
<text x="952.2" y="600.2" font-size="18" stroke-width="0.6" textLength="22.2" lengthAdjust="spacingAndGlyphs">10</text>
<text x="952.2" y="557.4" font-size="18" stroke-width="0.6" textLength="22.2" lengthAdjust="spacingAndGlyphs">15</text>
<text x="952.2" y="514.5" font-size="18" stroke-width="0.6" textLength="22.2" lengthAdjust="spacingAndGlyphs">20</text>
<text x="952.2" y="471.7" font-size="18" stroke-width="0.6" textLength="22.2" lengthAdjust="spacingAndGlyphs">25</text>
<text x="952.2" y="428.9" font-size="18" stroke-width="0.6" textLength="22.2" lengthAdjust="spacingAndGlyphs">30</text>
<text x="952.2" y="386.1" font-size="18" stroke-width="0.6" textLength="22.2" lengthAdjust="spacingAndGlyphs">50</text>
<text x="952.2" y="343.2" font-size="18" stroke-width="0.6" textLength="22.2" lengthAdjust="spacingAndGlyphs">80</text>
<text x="952.2" y="300.4" font-size="18" stroke-width="0.6" textLength="33.3" lengthAdjust="spacingAndGlyphs">110</text>
<text x="952.2" y="257.6" font-size="18" stroke-width="0.6" textLength="33.3" lengthAdjust="spacingAndGlyphs">140</text>
<text x="952.2" y="214.8" font-size="18" stroke-width="0.6" textLength="33.3" lengthAdjust="spacingAndGlyphs">180</text>
<text x="952.2" y="171.9" font-size="18" stroke-width="0.6" textLength="33.3" lengthAdjust="spacingAndGlyphs">220</text>
<text x="952.2" y="129.1" font-size="18" stroke-width="0.6" textLength="33.3" lengthAdjust="spacingAndGlyphs">250</text>
<text x="171.8" y="27.6" font-size="28.5" stroke-width="0.5" textLength="122.5" lengthAdjust="spacingAndGlyphs">Caribbean</text>
<text x="309.4" y="27.6" font-size="28.5" stroke-width="0.5" textLength="99.3" lengthAdjust="spacingAndGlyphs">Institute</text>
<text x="424.6" y="27.6" font-size="28.5" stroke-width="0.5" textLength="32.9" lengthAdjust="spacingAndGlyphs">for</text>
<text x="473.4" y="27.6" font-size="28.5" stroke-width="0.5" textLength="145.6" lengthAdjust="spacingAndGlyphs">Meteorology</text>
<text x="635" y="27.6" font-size="28.5" stroke-width="0.5" textLength="44.5" lengthAdjust="spacingAndGlyphs">and</text>
<text x="695" y="27.6" font-size="28.5" stroke-width="0.5" textLength="119.5" lengthAdjust="spacingAndGlyphs">Hydrology</text>
<text x="79" y="55.0" font-size="32" stroke-width="0.75" textLength="158.5" lengthAdjust="spacingAndGlyphs">Aggregated</text>
<text x="256" y="55.0" font-size="32" stroke-width="0.75" textLength="251.5" lengthAdjust="spacingAndGlyphs">precipitation(mm)</text>
<text x="526" y="55.0" font-size="32" stroke-width="0.75" textLength="42.5" lengthAdjust="spacingAndGlyphs">BVI</text>
<text x="586" y="55.0" font-size="32" stroke-width="0.75" textLength="64.5" lengthAdjust="spacingAndGlyphs">Valid</text>
<text x="667" y="55.0" font-size="32" stroke-width="0.75" textLength="53.5" lengthAdjust="spacingAndGlyphs">01Z</text>
<text x="738" y="55.0" font-size="32" stroke-width="0.75" textLength="91.5" lengthAdjust="spacingAndGlyphs">27/10</text>
<text x="847" y="55.0" font-size="32" stroke-width="0.75" textLength="72.5" lengthAdjust="spacingAndGlyphs">2014</text>
</svg></body></html>
